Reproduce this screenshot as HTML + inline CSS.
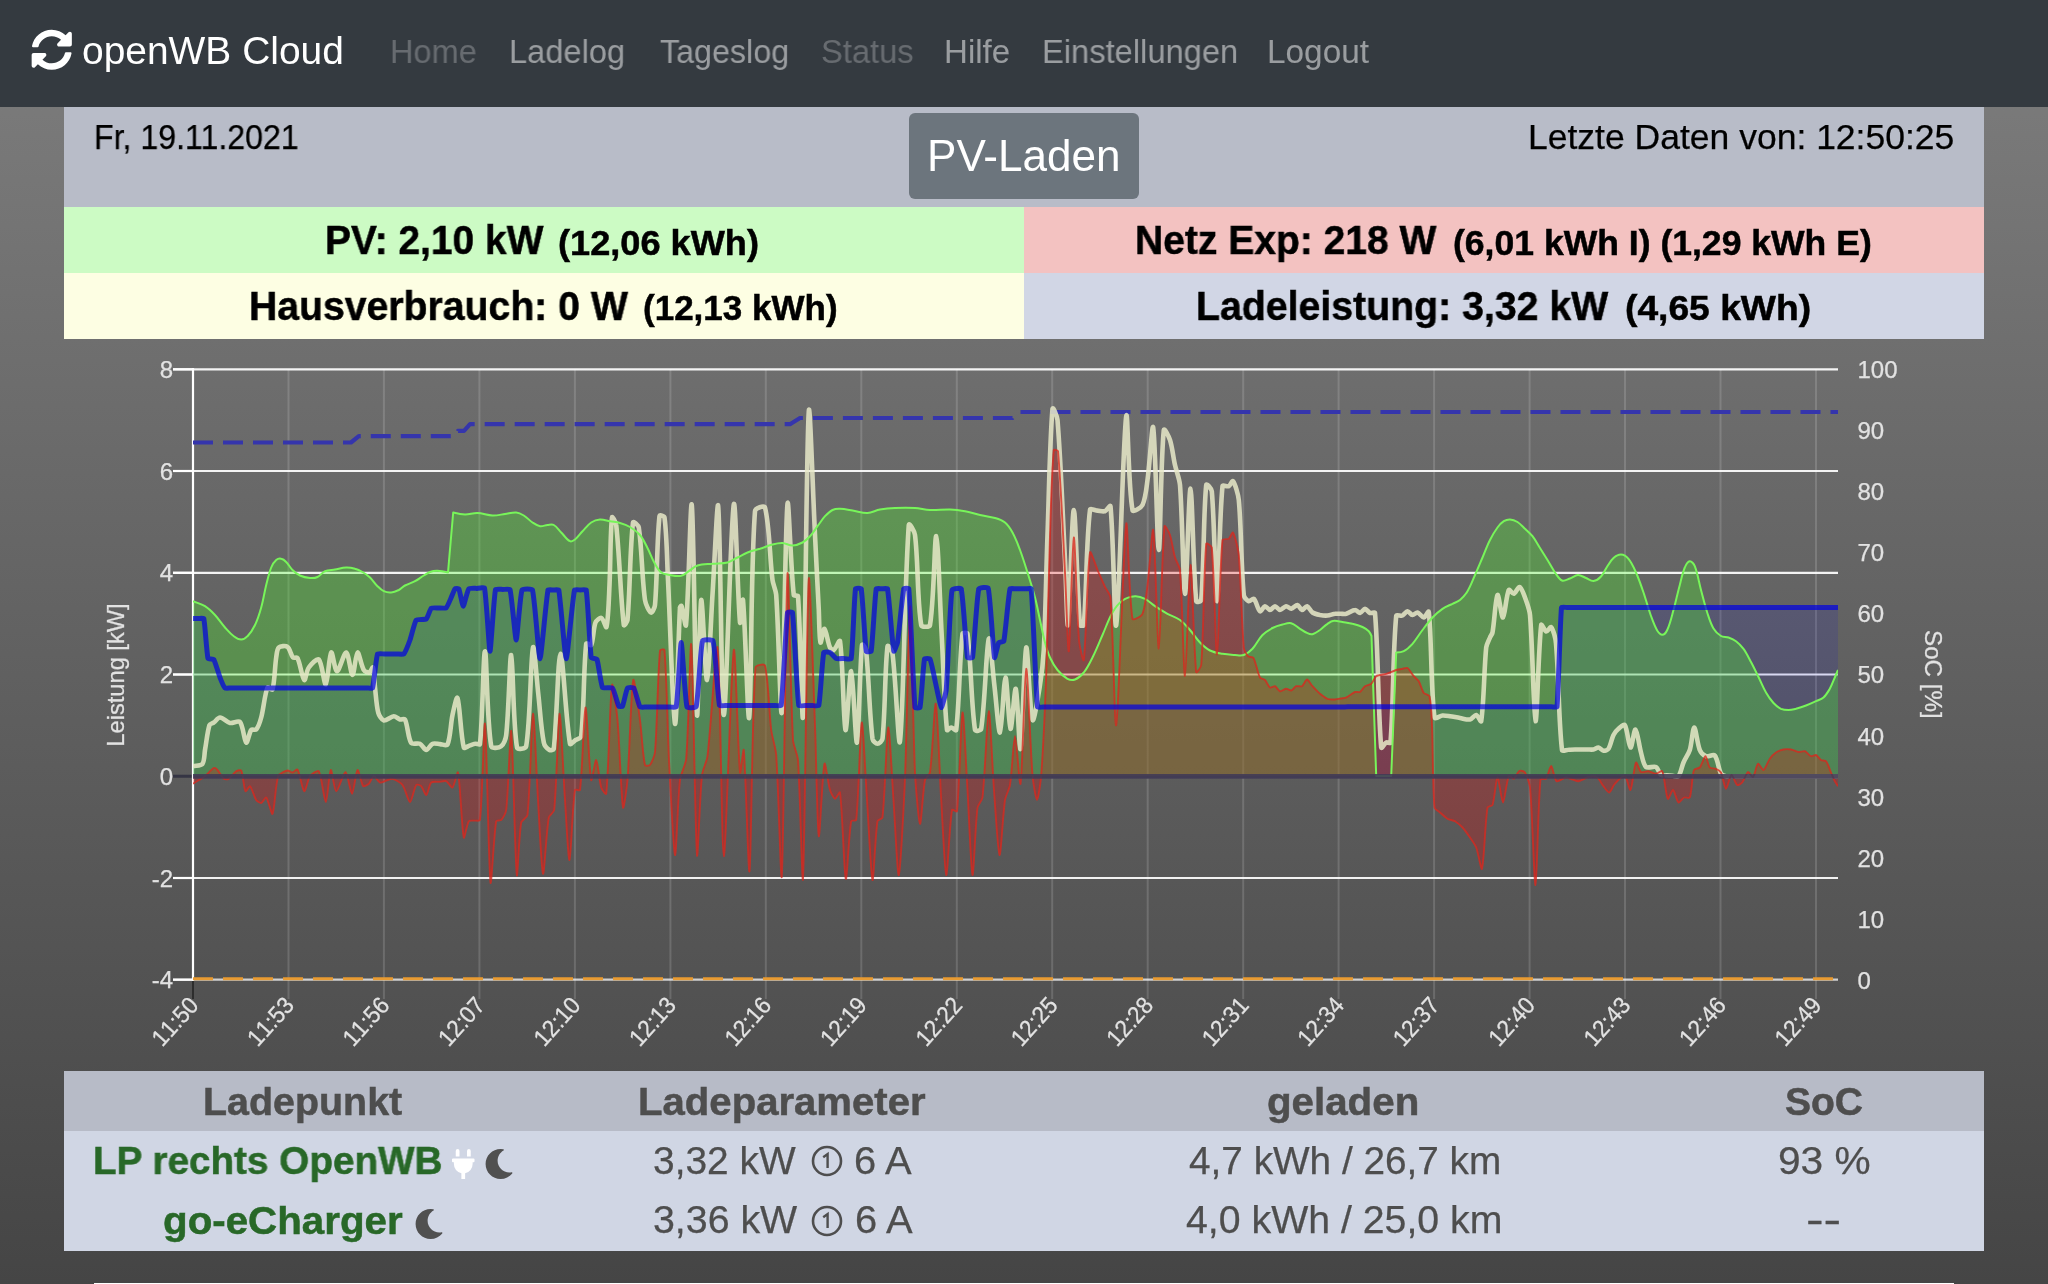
<!DOCTYPE html>
<html lang="de"><head><meta charset="utf-8"><title>openWB Cloud</title>
<style>
html,body{margin:0;padding:0}
body{width:2048px;height:1284px;overflow:hidden;position:relative;font-family:"Liberation Sans",sans-serif;
background:linear-gradient(to bottom,#7e7e7e 0px,#454545 1284px)}
.t{position:absolute;white-space:nowrap;line-height:1;display:block}
.box{position:absolute}
a.t{text-decoration:none}
nav{position:absolute;left:0;top:0;width:2048px;height:107px;background:#343a40}
svg{position:absolute;overflow:visible;will-change:transform}
.t{will-change:transform}
</style></head><body>

<nav>
<svg style="left:31.3px;top:29.2px" width="41.5" height="41.5" viewBox="0 0 512 512"><path fill="#fff" d="M370.72 133.28C339.458 104.008 298.888 87.962 255.848 88c-77.458.068-144.328 53.178-162.791 126.85-1.344 5.363-6.122 9.15-11.651 9.15H24.103c-7.498 0-13.194-6.807-11.807-14.176C33.933 94.924 134.813 8 256 8c66.448 0 126.791 26.136 171.315 68.685L463.03 40.97C478.149 25.851 504 36.559 504 57.941V192c0 13.255-10.745 24-24 24H345.941c-21.382 0-32.09-25.851-16.971-40.971l41.75-41.749zM32 296h134.059c21.382 0 32.09 25.851 16.971 40.971l-41.75 41.75c31.262 29.273 71.835 45.319 114.876 45.28 77.418-.07 144.315-53.144 162.787-126.849 1.344-5.363 6.122-9.15 11.651-9.15h57.304c7.498 0 13.194 6.807 11.807 14.176C478.067 417.076 377.187 504 256 504c-66.448 0-126.791-26.136-171.315-68.685L48.97 471.03C33.851 486.149 8 475.441 8 454.059V320c0-13.255 10.745-24 24-24z"/></svg>
<span class="t" id="brand" style="left:82.0px;top:32.0px;font-size:38.4px;font-weight:400;color:#fff;transform:scaleX(1.0141);transform-origin:left center;">openWB Cloud</span>
<a class="t" href="#" id="nav0" style="left:390.4px;top:35.2px;font-size:33px;font-weight:400;color:rgba(255,255,255,0.25);transform:scaleX(0.9854);transform-origin:left center;">Home</a>
<a class="t" href="#" id="nav1" style="left:509.0px;top:35.2px;font-size:33px;font-weight:400;color:rgba(255,255,255,0.5);transform:scaleX(0.9887);transform-origin:left center;">Ladelog</a>
<a class="t" href="#" id="nav2" style="left:659.6px;top:35.2px;font-size:33px;font-weight:400;color:rgba(255,255,255,0.5);transform:scaleX(0.9775);transform-origin:left center;">Tageslog</a>
<a class="t" href="#" id="nav3" style="left:820.6px;top:35.2px;font-size:33px;font-weight:400;color:rgba(255,255,255,0.25);transform:scaleX(0.9903);transform-origin:left center;">Status</a>
<a class="t" href="#" id="nav4" style="left:944.0px;top:35.2px;font-size:33px;font-weight:400;color:rgba(255,255,255,0.5);transform:scaleX(1.0019);transform-origin:left center;">Hilfe</a>
<a class="t" href="#" id="nav5" style="left:1042.0px;top:35.2px;font-size:33px;font-weight:400;color:rgba(255,255,255,0.5);transform:scaleX(0.9903);transform-origin:left center;">Einstellungen</a>
<a class="t" href="#" id="nav6" style="left:1267.0px;top:35.2px;font-size:33px;font-weight:400;color:rgba(255,255,255,0.5);transform:scaleX(1.0103);transform-origin:left center;">Logout</a>
</nav>
<div class="box" style="left:64px;top:107px;width:1920px;height:100px;background:#b8bcc8"></div>
<span class="t" id="date" style="left:94.4px;top:120.4px;font-size:35.5px;font-weight:400;color:#000;transform:scaleX(0.9047);transform-origin:left center;-webkit-text-stroke:0.25px #000;">Fr, 19.11.2021</span>
<span class="t" id="last" style="right:94.0px;top:120.4px;font-size:35.5px;font-weight:400;color:#000;transform:scaleX(1.0000);transform-origin:right center;-webkit-text-stroke:0.25px #000;">Letzte Daten von: 12:50:25</span>
<div class="box" style="left:909px;top:113px;width:230px;height:86px;background:#6c757d;border-radius:6px"></div>
<span class="t" id="pvl" style="left:926.6px;top:133.9px;font-size:44px;font-weight:400;color:#fff;transform:scaleX(1.0017);transform-origin:left center;">PV-Laden</span>
<div class="box" style="left:64px;top:207px;width:960px;height:66px;background:#ccfbc4"></div>
<div class="box" style="left:1024px;top:207px;width:960px;height:66px;background:#f3c2c1"></div>
<div class="box" style="left:64px;top:273px;width:960px;height:66px;background:#fdfee3"></div>
<div class="box" style="left:1024px;top:273px;width:960px;height:66px;background:#d1d6e5"></div>
<span class="t" id="pv1" style="left:324.8px;top:220.4px;font-size:40.5px;font-weight:700;color:#000;transform:scaleX(0.9604);transform-origin:left center;-webkit-text-stroke:0.5px #000;">PV: 2,10 kW</span>
<span class="t" id="pv2" style="left:557.8px;top:225.1px;font-size:35px;font-weight:700;color:#000;transform:scaleX(1.0330);transform-origin:left center;-webkit-text-stroke:0.5px #000;">(12,06 kWh)</span>
<span class="t" id="nz1" style="left:1135.2px;top:220.4px;font-size:40.5px;font-weight:700;color:#000;transform:scaleX(0.9636);transform-origin:left center;-webkit-text-stroke:0.5px #000;">Netz Exp: 218 W</span>
<span class="t" id="nz2" style="left:1452.6px;top:225.1px;font-size:35px;font-weight:700;color:#000;transform:scaleX(1.0156);transform-origin:left center;-webkit-text-stroke:0.5px #000;">(6,01 kWh I) (1,29 kWh E)</span>
<span class="t" id="hv1" style="left:248.6px;top:285.7px;font-size:40.5px;font-weight:700;color:#000;transform:scaleX(0.9674);transform-origin:left center;-webkit-text-stroke:0.5px #000;">Hausverbrauch: 0 W</span>
<span class="t" id="hv2" style="left:643.0px;top:290.4px;font-size:35px;font-weight:700;color:#000;transform:scaleX(1.0003);transform-origin:left center;-webkit-text-stroke:0.5px #000;">(12,13 kWh)</span>
<span class="t" id="ll1" style="left:1195.6px;top:285.7px;font-size:40.5px;font-weight:700;color:#000;transform:scaleX(0.9694);transform-origin:left center;-webkit-text-stroke:0.5px #000;">Ladeleistung: 3,32 kW</span>
<span class="t" id="ll2" style="left:1625.2px;top:290.4px;font-size:35px;font-weight:700;color:#000;transform:scaleX(1.0631);transform-origin:left center;-webkit-text-stroke:0.5px #000;">(4,65 kWh)</span>
<svg style="left:0;top:339px" width="2048" height="732" viewBox="0 339 2048 732">
<defs><clipPath id="ca"><rect x="193" y="368" width="1645" height="613"/></clipPath></defs>
<line x1="288.5" y1="369" x2="288.5" y2="999" stroke="rgba(255,255,255,0.15)" stroke-width="2"/>
<line x1="383.9" y1="369" x2="383.9" y2="999" stroke="rgba(255,255,255,0.15)" stroke-width="2"/>
<line x1="479.4" y1="369" x2="479.4" y2="999" stroke="rgba(255,255,255,0.15)" stroke-width="2"/>
<line x1="574.9" y1="369" x2="574.9" y2="999" stroke="rgba(255,255,255,0.15)" stroke-width="2"/>
<line x1="670.4" y1="369" x2="670.4" y2="999" stroke="rgba(255,255,255,0.15)" stroke-width="2"/>
<line x1="765.8" y1="369" x2="765.8" y2="999" stroke="rgba(255,255,255,0.15)" stroke-width="2"/>
<line x1="861.3" y1="369" x2="861.3" y2="999" stroke="rgba(255,255,255,0.15)" stroke-width="2"/>
<line x1="956.8" y1="369" x2="956.8" y2="999" stroke="rgba(255,255,255,0.15)" stroke-width="2"/>
<line x1="1052.2" y1="369" x2="1052.2" y2="999" stroke="rgba(255,255,255,0.15)" stroke-width="2"/>
<line x1="1147.7" y1="369" x2="1147.7" y2="999" stroke="rgba(255,255,255,0.15)" stroke-width="2"/>
<line x1="1243.2" y1="369" x2="1243.2" y2="999" stroke="rgba(255,255,255,0.15)" stroke-width="2"/>
<line x1="1338.6" y1="369" x2="1338.6" y2="999" stroke="rgba(255,255,255,0.15)" stroke-width="2"/>
<line x1="1434.1" y1="369" x2="1434.1" y2="999" stroke="rgba(255,255,255,0.15)" stroke-width="2"/>
<line x1="1529.6" y1="369" x2="1529.6" y2="999" stroke="rgba(255,255,255,0.15)" stroke-width="2"/>
<line x1="1625.0" y1="369" x2="1625.0" y2="999" stroke="rgba(255,255,255,0.15)" stroke-width="2"/>
<line x1="1720.5" y1="369" x2="1720.5" y2="999" stroke="rgba(255,255,255,0.15)" stroke-width="2"/>
<line x1="1816.0" y1="369" x2="1816.0" y2="999" stroke="rgba(255,255,255,0.15)" stroke-width="2"/>
<line x1="193" y1="980" x2="193" y2="999" stroke="rgba(0,0,0,0.45)" stroke-width="2"/>
<line x1="173" y1="369.3" x2="1838" y2="369.3" stroke="rgba(255,255,255,0.92)" stroke-width="2.2"/>
<line x1="173" y1="369.3" x2="193" y2="369.3" stroke="#fff" stroke-width="2.2"/>
<line x1="173" y1="471.0" x2="1838" y2="471.0" stroke="rgba(255,255,255,0.92)" stroke-width="2.2"/>
<line x1="173" y1="471.0" x2="193" y2="471.0" stroke="#fff" stroke-width="2.2"/>
<line x1="173" y1="572.8" x2="1838" y2="572.8" stroke="rgba(255,255,255,0.92)" stroke-width="2.2"/>
<line x1="173" y1="572.8" x2="193" y2="572.8" stroke="#fff" stroke-width="2.2"/>
<line x1="173" y1="674.5" x2="1838" y2="674.5" stroke="rgba(255,255,255,0.92)" stroke-width="2.2"/>
<line x1="173" y1="674.5" x2="193" y2="674.5" stroke="#fff" stroke-width="2.2"/>
<line x1="173" y1="878.0" x2="1838" y2="878.0" stroke="rgba(255,255,255,0.92)" stroke-width="2.2"/>
<line x1="173" y1="878.0" x2="193" y2="878.0" stroke="#fff" stroke-width="2.2"/>
<line x1="173" y1="979.7" x2="1838" y2="979.7" stroke="rgba(255,255,255,0.72)" stroke-width="2.2"/>
<line x1="173" y1="979.7" x2="193" y2="979.7" stroke="#fff" stroke-width="2.2"/>
<line x1="173" y1="776.2" x2="1838" y2="776.2" stroke="rgba(40,40,60,0.75)" stroke-width="3"/>
<line x1="193" y1="368" x2="193" y2="981" stroke="#fff" stroke-width="2.2"/>
<g clip-path="url(#ca)" fill="none" stroke-linejoin="round" stroke-linecap="butt">
<path d="M193.0 618.5C193.8 618.5 197.6 618.5 198.4 618.5C199.2 618.5 203.6 617.8 203.8 618.5C205.0 623.8 206.7 653.1 208.0 658.5C208.2 659.3 213.3 658.8 213.8 659.5C215.1 661.7 219.0 674.8 220.0 677.5C220.6 679.1 223.9 686.9 225.0 688.0C225.5 688.5 229.6 688.0 230.5 688.0C231.3 688.0 235.1 688.0 235.9 688.0C236.7 688.0 240.6 688.0 241.4 688.0C242.2 688.0 246.0 688.0 246.9 688.0C247.7 688.0 251.5 688.0 252.3 688.0C253.1 688.0 257.0 688.0 257.8 688.0C258.6 688.0 262.4 688.0 263.2 688.0C264.1 688.0 267.9 688.0 268.7 688.0C269.5 688.0 273.3 688.0 274.2 688.0C275.0 688.0 278.8 688.0 279.6 688.0C280.4 688.0 284.3 688.0 285.1 688.0C285.9 688.0 289.7 688.0 290.6 688.0C291.4 688.0 295.2 688.0 296.0 688.0C296.8 688.0 300.7 688.0 301.5 688.0C302.3 688.0 306.1 688.0 306.9 688.0C307.8 688.0 311.6 688.0 312.4 688.0C313.2 688.0 317.1 688.0 317.9 688.0C318.7 688.0 322.5 688.0 323.3 688.0C324.2 688.0 328.0 688.0 328.8 688.0C329.6 688.0 333.4 688.0 334.3 688.0C335.1 688.0 338.9 688.0 339.7 688.0C340.5 688.0 344.4 688.0 345.2 688.0C346.0 688.0 349.8 688.0 350.6 688.0C351.5 688.0 355.3 688.0 356.1 688.0C356.9 688.0 360.8 688.0 361.6 688.0C362.4 688.0 366.2 688.0 367.0 688.0C367.9 688.0 372.3 688.7 372.5 688.0C373.9 683.6 376.0 658.3 377.5 654.0C377.8 653.2 383.1 654.0 384.1 654.0C385.0 654.0 389.6 654.0 390.6 654.0C391.6 654.0 396.2 654.0 397.2 654.0C398.2 654.0 403.2 654.6 403.8 654.0C405.1 652.5 409.2 642.2 410.0 640.0C411.1 637.1 414.6 622.1 416.2 620.0C417.0 619.0 425.2 619.8 426.2 619.0C427.5 618.0 430.1 609.3 431.2 608.2C432.0 607.6 437.6 608.0 438.8 608.0C439.9 608.0 445.5 608.4 446.2 607.8C447.4 606.8 450.5 599.1 451.2 597.5C451.8 596.2 454.2 589.7 455.0 588.8C455.3 588.4 458.5 588.3 458.8 588.8C459.8 590.9 462.5 606.2 463.2 606.2C464.0 606.2 467.3 590.6 468.8 588.8C469.4 587.9 475.4 588.4 476.6 588.4C477.8 588.3 484.3 587.0 484.5 588.0C486.3 596.4 489.2 651.1 490.0 651.2C490.8 651.4 493.8 597.8 495.5 589.5C495.7 588.5 501.7 589.5 502.8 589.5C503.8 589.5 509.7 588.6 510.0 589.5C511.8 596.1 515.3 640.0 516.2 640.0C517.1 640.0 520.0 596.2 522.0 590.0C522.4 588.7 532.1 588.6 532.5 590.0C534.8 599.0 538.8 658.8 540.0 658.8C541.2 658.8 546.1 599.6 548.0 590.0C548.1 589.3 552.6 590.0 553.4 590.0C554.2 590.0 558.6 589.3 558.8 590.0C560.5 599.6 565.1 658.8 566.2 658.8C567.4 658.8 572.5 599.5 574.5 590.0C574.7 589.2 579.5 590.0 580.4 590.0C581.3 590.0 586.1 589.2 586.2 590.0C587.8 599.3 589.8 647.9 591.2 657.5C591.4 658.4 596.7 658.7 597.0 659.5C598.4 663.2 600.8 684.3 602.5 687.5C603.1 688.6 611.7 687.0 612.5 688.0C614.1 689.9 617.5 704.0 618.8 706.2C619.0 706.7 622.3 706.7 622.5 706.2C623.6 704.0 626.2 690.1 627.5 688.0C627.9 687.3 633.3 687.3 633.8 688.0C635.2 690.2 638.6 704.8 640.0 707.0C640.4 707.7 645.1 707.0 646.0 707.0C646.9 707.0 651.2 707.0 652.1 707.0C653.0 707.0 657.2 707.0 658.1 707.0C659.0 707.0 663.3 707.0 664.2 707.0C665.1 707.0 669.3 707.0 670.2 707.0C671.1 707.0 676.1 707.8 676.2 707.0C677.8 698.2 680.4 642.5 681.2 642.5C682.1 642.5 685.0 698.6 687.0 707.0C687.3 708.2 696.0 707.7 696.2 706.5C698.3 697.8 700.3 649.3 702.5 640.8C702.8 639.4 712.6 639.4 713.0 640.8C715.2 649.1 717.8 696.6 719.5 705.5C719.6 706.3 724.3 705.5 725.1 705.5C726.0 705.5 729.9 705.5 730.7 705.5C731.6 705.5 735.5 705.5 736.3 705.5C737.2 705.5 741.1 705.5 742.0 705.5C742.8 705.5 746.7 705.5 747.6 705.5C748.4 705.5 752.3 705.5 753.2 705.5C754.0 705.5 758.0 705.5 758.8 705.5C759.6 705.5 763.6 705.5 764.4 705.5C765.3 705.5 769.2 705.5 770.0 705.5C770.9 705.5 774.8 705.5 775.6 705.5C776.5 705.5 781.1 706.3 781.2 705.5C782.9 692.3 785.9 625.7 787.5 612.5C787.6 611.8 792.4 611.8 792.5 612.5C794.1 625.7 796.9 692.5 798.8 705.5C798.9 706.4 804.4 705.5 805.4 705.5C806.4 705.5 811.1 705.5 812.1 705.5C813.1 705.5 818.6 706.4 818.8 705.5C820.3 698.4 822.2 659.6 823.8 652.5C823.9 651.7 829.2 652.1 830.0 652.5C831.1 653.0 835.1 658.0 836.2 658.5C837.2 658.9 842.6 658.5 843.8 658.5C844.9 658.5 851.1 659.5 851.2 658.5C852.8 649.1 854.1 598.4 855.5 588.8C855.6 588.0 861.1 588.0 861.2 588.8C862.7 597.3 864.9 642.6 866.2 651.2C866.4 651.9 871.1 651.9 871.2 651.2C872.6 642.6 874.8 597.4 876.2 588.8C876.4 588.0 881.0 588.8 881.9 588.8C882.7 588.8 887.4 588.0 887.5 588.8C889.1 597.4 892.4 644.2 893.8 651.2C893.9 652.3 897.3 643.9 897.5 642.5C898.8 634.5 902.2 596.1 903.8 588.8C903.9 588.1 908.7 588.0 908.8 588.8C910.4 605.8 913.4 690.4 915.0 707.5C915.1 708.2 919.9 708.2 920.0 707.5C921.3 700.9 923.2 665.5 924.5 659.0C924.7 658.3 929.7 658.3 930.0 659.0C931.4 662.0 934.8 679.6 935.6 683.2C936.5 686.9 940.3 706.9 941.2 707.5C941.9 707.9 946.0 692.7 946.2 690.0C947.6 675.1 949.9 603.9 952.0 590.0C952.2 588.7 961.0 587.5 961.2 588.8C963.3 597.7 965.9 647.9 967.5 657.5C967.6 658.2 972.4 658.2 972.5 657.5C974.1 647.9 976.7 597.9 978.8 588.8C979.0 587.5 988.0 586.8 988.2 588.0C990.3 597.1 993.2 650.8 994.5 657.5C994.8 659.0 997.7 644.3 998.8 642.5C999.1 641.9 1003.6 642.0 1003.8 641.2C1005.3 633.9 1008.4 595.9 1010.0 588.8C1010.2 588.0 1014.5 588.8 1015.3 588.8C1016.1 588.8 1019.8 588.8 1020.6 588.8C1021.4 588.8 1025.1 588.8 1025.9 588.8C1026.7 588.8 1031.2 588.0 1031.2 588.8C1032.9 605.7 1035.8 690.0 1037.5 707.0C1037.6 707.8 1042.0 707.0 1042.8 707.0C1043.6 707.0 1047.3 707.0 1048.1 707.0C1048.9 707.0 1052.6 707.0 1053.4 707.0C1054.2 707.0 1057.9 707.0 1058.7 707.0C1059.5 707.0 1063.2 707.0 1064.0 707.0C1064.8 707.0 1068.5 707.0 1069.3 707.0C1070.1 707.0 1073.8 707.0 1074.6 707.0C1075.4 707.0 1079.1 707.0 1079.9 707.0C1080.7 707.0 1084.4 707.0 1085.2 707.0C1086.0 707.0 1089.7 707.0 1090.5 707.0C1091.3 707.0 1095.0 707.0 1095.8 707.0C1096.6 707.0 1100.3 707.0 1101.1 707.0C1101.9 707.0 1105.6 707.0 1106.4 707.0C1107.2 707.0 1110.9 707.0 1111.7 707.0C1112.5 707.0 1116.2 707.0 1117.0 707.0C1117.8 707.0 1121.5 707.0 1122.3 707.0C1123.1 707.0 1126.8 707.0 1127.6 707.0C1128.4 707.0 1132.1 707.0 1132.9 707.0C1133.7 707.0 1137.4 707.0 1138.2 707.0C1139.0 707.0 1142.7 706.9 1143.5 706.9C1144.3 706.9 1148.0 706.9 1148.8 706.9C1149.6 706.9 1153.3 706.9 1154.1 706.9C1154.9 706.9 1158.6 706.9 1159.4 706.9C1160.2 706.9 1163.9 706.9 1164.7 706.9C1165.5 706.9 1169.2 706.9 1170.0 706.9C1170.8 706.9 1174.5 706.9 1175.3 706.9C1176.1 706.9 1179.8 706.9 1180.6 706.9C1181.4 706.9 1185.1 706.9 1185.9 706.9C1186.7 706.9 1190.4 706.9 1191.2 706.9C1192.0 706.9 1195.7 706.9 1196.5 706.9C1197.3 706.9 1201.0 706.9 1201.8 706.9C1202.6 706.9 1206.3 706.9 1207.1 706.9C1207.9 706.9 1211.6 706.9 1212.4 706.9C1213.2 706.9 1216.9 706.9 1217.7 706.9C1218.5 706.9 1222.2 706.9 1223.0 706.9C1223.8 706.9 1227.5 706.9 1228.3 706.9C1229.1 706.9 1232.8 706.9 1233.6 706.9C1234.4 706.9 1238.1 706.9 1238.9 706.9C1239.7 706.9 1243.4 706.9 1244.2 706.9C1245.0 706.9 1248.7 706.9 1249.5 706.9C1250.3 706.9 1254.0 706.9 1254.8 706.9C1255.6 706.9 1259.3 706.9 1260.1 706.9C1260.9 706.9 1264.6 706.9 1265.4 706.9C1266.2 706.9 1269.9 706.9 1270.7 706.9C1271.5 706.9 1275.3 706.9 1276.0 706.9C1276.8 706.9 1280.6 706.9 1281.3 706.9C1282.1 706.9 1285.9 706.9 1286.6 706.9C1287.4 706.9 1291.2 706.9 1291.9 706.9C1292.7 706.9 1296.5 706.9 1297.2 706.9C1298.0 706.9 1301.8 706.9 1302.6 706.9C1303.3 706.9 1307.1 706.9 1307.9 706.9C1308.6 706.9 1312.4 706.9 1313.2 706.9C1313.9 706.9 1317.7 706.9 1318.5 706.9C1319.2 706.9 1323.0 706.9 1323.8 706.9C1324.6 706.9 1328.3 706.9 1329.1 706.9C1329.9 706.9 1333.6 706.9 1334.4 706.9C1335.2 706.9 1338.9 706.9 1339.7 706.9C1340.5 706.9 1344.2 706.9 1345.0 706.9C1345.8 706.9 1349.5 706.8 1350.3 706.8C1351.1 706.8 1354.8 706.8 1355.6 706.8C1356.4 706.8 1360.1 706.8 1360.9 706.8C1361.7 706.8 1365.4 706.8 1366.2 706.8C1367.0 706.8 1370.7 706.8 1371.5 706.8C1372.3 706.8 1376.0 706.8 1376.8 706.8C1377.6 706.8 1381.3 706.8 1382.1 706.8C1382.9 706.8 1386.6 706.8 1387.4 706.8C1388.2 706.8 1391.9 706.8 1392.7 706.8C1393.5 706.8 1397.2 706.8 1398.0 706.8C1398.8 706.8 1402.5 706.8 1403.3 706.8C1404.1 706.8 1407.8 706.8 1408.6 706.8C1409.4 706.8 1413.1 706.8 1413.9 706.8C1414.7 706.8 1418.4 706.8 1419.2 706.8C1420.0 706.8 1423.7 706.8 1424.5 706.8C1425.3 706.8 1429.0 706.8 1429.8 706.8C1430.6 706.8 1434.3 706.8 1435.1 706.8C1435.9 706.8 1439.6 706.8 1440.4 706.8C1441.2 706.8 1444.9 706.8 1445.7 706.8C1446.5 706.8 1450.2 706.8 1451.0 706.8C1451.8 706.8 1455.5 706.8 1456.3 706.8C1457.1 706.8 1460.8 706.8 1461.6 706.8C1462.4 706.8 1466.1 706.8 1466.9 706.8C1467.7 706.8 1471.4 706.8 1472.2 706.8C1473.0 706.8 1476.7 706.8 1477.5 706.8C1478.3 706.8 1482.0 706.8 1482.8 706.8C1483.6 706.8 1487.3 706.8 1488.1 706.8C1488.9 706.8 1492.6 706.8 1493.4 706.8C1494.2 706.8 1497.9 706.8 1498.7 706.8C1499.5 706.8 1503.2 706.8 1504.0 706.8C1504.8 706.8 1508.5 706.8 1509.3 706.8C1510.1 706.8 1513.8 706.8 1514.6 706.8C1515.4 706.8 1519.1 706.8 1519.9 706.8C1520.7 706.8 1524.4 706.8 1525.2 706.8C1526.0 706.8 1529.7 706.8 1530.5 706.8C1531.3 706.8 1535.0 706.8 1535.8 706.8C1536.6 706.8 1540.3 706.8 1541.1 706.8C1541.9 706.8 1545.6 706.8 1546.4 706.8C1547.2 706.8 1550.9 706.8 1551.7 706.8C1552.5 706.8 1556.9 707.5 1557.0 706.8C1558.4 692.6 1560.1 621.6 1561.5 607.5C1561.6 606.7 1566.0 607.5 1566.8 607.5C1567.6 607.5 1571.3 607.5 1572.1 607.5C1572.9 607.5 1576.7 607.5 1577.5 607.5C1578.2 607.5 1582.0 607.5 1582.8 607.5C1583.6 607.5 1587.3 607.5 1588.1 607.5C1588.9 607.5 1592.6 607.5 1593.4 607.5C1594.2 607.5 1597.9 607.5 1598.7 607.5C1599.5 607.5 1603.2 607.5 1604.0 607.5C1604.8 607.5 1608.6 607.5 1609.4 607.5C1610.2 607.5 1613.9 607.5 1614.7 607.5C1615.5 607.5 1619.2 607.5 1620.0 607.5C1620.8 607.5 1624.5 607.5 1625.3 607.5C1626.1 607.5 1629.8 607.5 1630.6 607.5C1631.4 607.5 1635.1 607.5 1635.9 607.5C1636.7 607.5 1640.5 607.5 1641.3 607.5C1642.1 607.5 1645.8 607.5 1646.6 607.5C1647.4 607.5 1651.1 607.5 1651.9 607.5C1652.7 607.5 1656.4 607.5 1657.2 607.5C1658.0 607.5 1661.7 607.5 1662.5 607.5C1663.3 607.5 1667.0 607.5 1667.8 607.5C1668.6 607.5 1672.4 607.5 1673.2 607.5C1674.0 607.5 1677.7 607.5 1678.5 607.5C1679.3 607.5 1683.0 607.5 1683.8 607.5C1684.6 607.5 1688.3 607.5 1689.1 607.5C1689.9 607.5 1693.6 607.5 1694.4 607.5C1695.2 607.5 1699.0 607.5 1699.8 607.5C1700.5 607.5 1704.3 607.5 1705.1 607.5C1705.9 607.5 1709.6 607.5 1710.4 607.5C1711.2 607.5 1714.9 607.5 1715.7 607.5C1716.5 607.5 1720.2 607.5 1721.0 607.5C1721.8 607.5 1725.5 607.5 1726.3 607.5C1727.1 607.5 1730.9 607.5 1731.7 607.5C1732.5 607.5 1736.2 607.5 1737.0 607.5C1737.8 607.5 1741.5 607.5 1742.3 607.5C1743.1 607.5 1746.8 607.5 1747.6 607.5C1748.4 607.5 1752.1 607.5 1752.9 607.5C1753.7 607.5 1757.4 607.5 1758.2 607.5C1759.0 607.5 1762.8 607.5 1763.6 607.5C1764.4 607.5 1768.1 607.5 1768.9 607.5C1769.7 607.5 1773.4 607.5 1774.2 607.5C1775.0 607.5 1778.7 607.5 1779.5 607.5C1780.3 607.5 1784.0 607.5 1784.8 607.5C1785.6 607.5 1789.3 607.5 1790.1 607.5C1790.9 607.5 1794.7 607.5 1795.5 607.5C1796.3 607.5 1800.0 607.5 1800.8 607.5C1801.6 607.5 1805.3 607.5 1806.1 607.5C1806.9 607.5 1810.6 607.5 1811.4 607.5C1812.2 607.5 1815.9 607.5 1816.7 607.5C1817.5 607.5 1821.3 607.5 1822.0 607.5C1822.8 607.5 1826.6 607.5 1827.4 607.5C1828.2 607.5 1831.9 607.5 1832.7 607.5C1833.5 607.5 1837.2 607.5 1838.0 607.5L1838.0 776.2 L193.0 776.2 Z" fill="rgba(0,0,230,0.11)" stroke="none"/>
<path d="M193.0 601.2C197.2 603.0 201.2 603.9 205.0 606.2C208.9 608.7 211.8 611.6 215.0 615.0C218.8 619.1 221.3 623.3 225.0 627.5C227.9 630.7 230.3 633.7 233.8 636.2C236.0 637.9 238.7 639.5 241.2 639.5C243.5 639.5 245.9 638.0 247.5 636.2C250.7 632.9 253.0 629.2 255.0 625.0C257.8 619.2 259.5 613.7 261.2 607.5C263.4 599.7 264.3 592.8 266.2 585.0C267.8 578.8 268.9 573.4 271.2 567.5C272.4 564.6 274.0 561.9 276.2 560.0C277.5 558.9 279.6 558.4 281.2 558.8C283.1 559.1 284.8 560.5 286.2 562.0C288.7 564.5 290.0 567.5 292.5 570.0C294.8 572.3 297.1 574.2 300.0 575.5C303.2 577.0 306.5 577.7 310.0 578.0C312.6 578.2 315.2 578.1 317.5 577.0C320.4 575.7 322.0 572.5 325.0 571.2C328.2 569.9 331.5 570.1 335.0 569.5C338.9 568.8 342.3 567.6 346.2 567.5C349.3 567.4 352.0 567.9 355.0 568.8C357.7 569.5 360.0 570.6 362.5 572.0C365.3 573.6 367.7 575.3 370.0 577.5C372.9 580.3 374.7 583.4 377.5 586.2C379.5 588.2 381.3 590.1 383.8 591.2C386.1 592.3 388.7 592.7 391.2 592.5C393.9 592.3 396.3 591.2 398.8 590.0C401.1 588.8 402.6 586.8 405.0 585.5C408.3 583.7 411.7 583.0 415.0 581.2C418.2 579.5 420.6 577.4 423.8 575.5C425.9 574.2 427.7 572.8 430.0 572.0C432.5 571.1 434.9 570.7 437.5 570.8C441.2 570.9 448.0 572.5 448.0 572.5C448.0 572.5 449.5 555.0 449.5 555.0C449.5 555.0 453.2 512.5 453.2 512.5C453.2 512.5 460.9 514.4 465.0 514.5C469.4 514.6 473.1 512.8 477.5 513.0C482.8 513.2 487.2 515.3 492.5 515.5C496.9 515.7 500.6 514.6 505.0 514.0C508.9 513.5 512.4 512.2 516.2 512.5C519.0 512.7 521.4 514.0 523.8 515.5C527.1 517.5 529.2 520.3 532.5 522.5C534.9 524.1 537.2 525.8 540.0 526.2C542.5 526.7 544.9 525.2 547.5 525.0C549.7 524.8 552.0 524.0 553.8 525.0C556.8 526.7 558.6 529.9 561.2 532.5C564.3 535.6 566.6 539.5 570.0 541.2C571.4 542.0 573.6 540.6 575.0 539.5C578.0 537.1 579.8 534.1 582.5 531.2C585.5 528.1 587.7 524.9 591.2 522.5C593.9 520.7 596.9 519.7 600.0 519.5C603.4 519.3 606.5 520.6 610.0 521.2C613.5 521.9 616.6 522.0 620.0 523.0C623.6 524.0 626.8 525.1 630.0 527.0C633.8 529.3 637.2 531.6 640.0 535.0C643.3 539.0 645.1 543.3 647.5 548.0C650.2 553.1 651.7 558.0 654.5 563.0C656.4 566.4 658.1 569.9 661.0 572.2C663.2 574.0 666.1 574.2 669.0 574.8C673.1 575.5 677.0 576.5 681.0 575.8C683.9 575.2 686.1 572.9 688.8 571.2C691.9 569.3 694.1 566.6 697.5 565.5C702.4 563.9 707.2 564.3 712.5 563.8C717.7 563.2 722.5 563.8 727.5 562.5C731.2 561.6 734.0 559.2 737.5 557.5C741.0 555.8 743.9 553.9 747.5 552.5C751.7 550.9 755.7 550.1 760.0 548.8C764.4 547.3 768.0 545.6 772.5 544.5C775.9 543.6 779.0 542.8 782.5 543.0C786.0 543.2 789.0 545.6 792.5 545.5C796.0 545.4 799.3 544.2 802.5 542.5C805.5 540.9 807.7 538.7 810.0 536.2C812.9 533.1 814.9 529.8 817.5 526.2C820.1 522.8 822.1 519.4 825.0 516.2C827.3 513.8 829.5 511.5 832.5 510.0C834.8 508.9 837.4 508.7 840.0 508.8C844.4 508.9 848.1 509.8 852.5 510.5C857.8 511.3 862.3 513.2 867.5 513.0C871.9 512.8 875.5 510.3 880.0 509.5C885.2 508.6 889.7 508.2 895.0 508.0C902.0 507.7 908.0 507.6 915.0 508.0C920.3 508.3 924.7 509.8 930.0 510.0C937.0 510.3 943.0 509.3 950.0 509.5C955.3 509.7 959.8 510.3 965.0 511.2C970.3 512.2 974.7 513.8 980.0 515.0C985.2 516.2 989.9 516.5 995.0 518.0C998.7 519.1 1002.1 520.1 1005.0 522.5C1008.3 525.2 1010.4 528.7 1012.5 532.5C1015.7 538.3 1017.7 543.8 1020.0 550.0C1022.9 557.8 1025.0 564.6 1027.5 572.5C1030.3 581.2 1032.7 588.7 1035.0 597.5C1037.1 605.3 1038.2 612.1 1040.0 620.0C1041.8 627.9 1042.9 634.7 1045.0 642.5C1046.4 647.8 1047.7 652.5 1050.0 657.5C1052.1 662.1 1054.3 666.1 1057.5 670.0C1060.4 673.5 1063.6 676.6 1067.5 678.8C1069.7 680.0 1072.7 680.4 1075.0 679.5C1078.4 678.2 1081.3 675.5 1083.8 672.5C1087.5 667.8 1089.8 662.9 1092.5 657.5C1096.3 649.8 1099.0 642.9 1102.5 635.0C1106.0 627.1 1108.2 619.9 1112.5 612.5C1115.2 607.8 1118.2 603.6 1122.5 600.5C1126.1 597.9 1130.6 596.6 1135.0 596.2C1138.5 596.0 1141.8 597.2 1145.0 598.8C1148.8 600.7 1151.4 603.8 1155.0 606.2C1159.2 609.1 1163.0 611.3 1167.5 613.8C1171.8 616.1 1176.1 617.2 1180.0 620.0C1184.0 622.9 1186.7 626.3 1190.0 630.0C1193.7 634.2 1196.1 638.5 1200.0 642.5C1203.1 645.7 1206.1 648.5 1210.0 650.5C1214.0 652.5 1218.1 653.0 1222.5 653.8C1226.8 654.5 1230.6 654.7 1235.0 655.0C1238.1 655.2 1241.0 656.0 1243.8 655.0C1247.1 653.8 1250.0 651.5 1252.5 648.8C1256.5 644.5 1258.4 639.2 1262.5 635.0C1265.4 632.0 1268.8 630.0 1272.5 628.0C1275.8 626.3 1278.9 625.4 1282.5 624.5C1285.5 623.7 1288.4 622.6 1291.2 623.2C1294.6 624.1 1296.9 626.9 1300.0 628.8C1302.6 630.4 1304.7 632.0 1307.5 633.2C1309.1 634.0 1310.9 634.7 1312.5 634.2C1315.2 633.5 1317.5 631.7 1320.0 630.0C1322.8 628.0 1324.7 625.6 1327.5 623.8C1329.5 622.4 1331.4 621.0 1333.8 620.8C1336.7 620.4 1339.4 621.5 1342.5 622.0C1346.0 622.6 1349.1 622.9 1352.5 623.8C1356.1 624.6 1359.2 625.5 1362.5 627.0C1364.9 628.1 1366.9 629.4 1368.8 631.2C1370.1 632.6 1371.5 636.0 1371.5 636.0C1371.5 636.0 1376.2 776.0 1376.2 776.0C1376.2 776.0 1391.2 776.0 1391.2 776.0C1391.2 776.0 1396.2 652.5 1396.2 652.5C1396.2 652.5 1401.5 652.5 1403.8 651.2C1407.2 649.4 1409.8 646.8 1412.5 643.8C1416.4 639.3 1418.9 634.7 1422.5 630.0C1425.9 625.5 1428.7 621.6 1432.5 617.5C1435.7 614.1 1438.7 611.4 1442.5 608.8C1445.7 606.6 1449.0 605.5 1452.5 603.8C1455.1 602.4 1457.8 601.8 1460.0 600.0C1463.0 597.5 1465.4 594.7 1467.5 591.2C1470.7 585.9 1472.5 580.7 1475.0 575.0C1477.7 568.9 1479.9 563.6 1482.5 557.5C1485.1 551.4 1487.0 545.9 1490.0 540.0C1492.3 535.4 1494.5 531.6 1497.5 527.5C1499.3 525.0 1501.2 522.9 1503.8 521.2C1505.6 520.1 1507.8 519.4 1510.0 519.5C1512.6 519.6 1515.2 520.6 1517.5 522.0C1520.4 523.8 1522.4 526.3 1525.0 528.8C1527.7 531.3 1530.2 533.3 1532.5 536.2C1535.5 540.1 1537.4 543.9 1540.0 548.0C1542.6 552.2 1544.9 555.8 1547.5 560.0C1550.2 564.4 1552.1 568.4 1555.0 572.5C1557.1 575.5 1559.0 579.3 1562.0 580.5C1564.3 581.4 1567.3 579.4 1570.0 578.5C1572.9 577.5 1575.2 575.1 1578.0 575.0C1580.8 574.9 1583.2 576.9 1586.0 578.0C1588.6 579.0 1591.0 581.3 1593.5 581.0C1596.2 580.7 1599.0 578.7 1601.0 576.5C1603.8 573.6 1604.9 569.9 1607.2 566.5C1609.3 563.4 1610.8 560.4 1613.5 558.0C1615.6 556.2 1618.4 554.4 1621.0 554.5C1623.7 554.6 1626.6 556.5 1628.5 558.8C1631.9 562.8 1633.8 567.5 1636.0 572.5C1639.0 579.3 1641.1 585.4 1643.5 592.5C1646.3 600.7 1648.1 607.9 1651.0 616.0C1652.9 621.2 1654.5 625.9 1657.2 630.5C1658.4 632.4 1660.5 634.8 1662.2 634.8C1664.0 634.7 1666.3 632.1 1667.2 630.0C1670.2 623.5 1671.5 617.1 1673.5 610.0C1675.9 601.3 1677.4 593.7 1679.8 585.0C1681.4 578.8 1682.3 573.3 1684.8 567.5C1685.8 565.0 1687.9 561.5 1689.8 561.2C1691.4 561.0 1693.9 564.0 1694.8 566.2C1697.8 574.1 1698.8 581.7 1701.0 590.0C1703.1 597.9 1704.7 604.7 1707.2 612.5C1709.1 618.2 1710.5 623.4 1713.5 628.5C1715.3 631.6 1717.9 634.2 1721.0 636.0C1723.2 637.3 1726.0 636.6 1728.5 637.5C1731.2 638.5 1733.7 639.5 1736.0 641.2C1738.9 643.4 1741.3 645.8 1743.5 648.8C1746.6 653.0 1748.5 657.3 1751.0 662.0C1753.8 667.2 1755.9 671.7 1758.5 677.0C1761.2 682.4 1763.0 687.3 1766.0 692.5C1768.2 696.4 1770.5 699.7 1773.5 703.0C1775.7 705.4 1778.1 707.4 1781.0 708.8C1783.3 709.8 1785.9 710.0 1788.5 710.0C1791.1 710.0 1793.4 709.4 1796.0 708.8C1799.6 707.8 1802.6 706.8 1806.0 705.5C1809.6 704.2 1812.5 702.8 1816.0 701.2C1818.7 700.0 1821.4 699.4 1823.5 697.5C1826.2 695.0 1827.9 692.0 1829.8 688.8C1831.9 685.0 1833.0 681.4 1834.8 677.5C1835.9 674.9 1836.9 672.6 1838.0 670.0L1838.0 776.2 L193.0 776.2 Z" fill="rgba(75,251,41,0.3)" stroke="none"/>
<path d="M193.0 783.8C194.5 782.8 197.5 780.9 199.0 780.0C200.5 779.1 203.6 777.4 205.0 776.2C207.3 774.4 211.4 769.2 213.8 768.0C214.6 767.6 216.8 769.2 217.5 770.0C219.3 771.9 221.8 777.3 223.8 778.8C224.6 779.4 227.7 779.4 228.8 778.8C230.9 777.5 234.1 772.6 236.2 771.2C237.3 770.6 240.8 769.5 241.2 770.5C243.1 774.5 243.8 788.3 245.5 791.2C246.0 792.2 249.2 785.6 250.0 786.2C251.9 787.8 254.2 797.0 256.2 800.0C257.0 801.2 260.2 803.3 261.2 803.0C262.7 802.6 265.4 796.7 266.2 797.5C268.2 799.4 271.6 815.4 272.5 813.8C274.6 810.1 275.3 784.7 278.2 776.2C279.1 773.8 285.1 771.1 287.5 770.5C288.7 770.2 291.3 772.6 292.5 772.5C293.8 772.4 296.9 768.5 297.5 769.5C299.8 773.2 302.4 790.3 304.2 791.2C305.5 791.9 307.8 779.3 310.0 776.2C311.4 774.3 317.8 769.7 318.8 771.2C321.7 776.1 324.3 802.2 325.8 802.0C327.3 801.8 329.2 771.6 330.8 770.0C331.8 768.9 334.4 791.0 336.2 791.2C338.1 791.5 343.6 771.7 345.5 772.0C347.5 772.3 350.6 794.0 352.0 793.8C353.6 793.5 355.9 771.1 357.5 770.0C358.7 769.2 361.2 783.7 363.2 786.2C364.0 787.1 367.7 784.8 368.8 783.8C370.3 782.3 372.3 776.4 373.8 776.2C375.1 776.1 378.2 781.9 380.0 782.5C381.3 783.0 384.7 781.1 386.2 780.6C387.8 780.2 391.1 778.4 392.5 778.8C395.1 779.5 400.8 782.7 402.5 785.0C405.2 788.6 408.3 802.0 410.0 802.0C411.7 802.0 414.1 788.1 416.2 785.0C416.9 784.1 420.4 785.4 421.2 786.2C422.9 787.9 425.2 795.4 426.2 795.0C427.7 794.5 429.2 784.6 431.2 782.5C432.4 781.3 436.9 782.0 438.8 781.9C440.6 781.7 444.7 780.6 446.2 781.2C448.1 782.0 451.5 788.3 452.5 787.5C454.4 786.1 457.4 770.0 458.0 772.5C460.3 782.5 461.6 827.8 463.8 837.5C464.3 840.0 466.8 824.4 468.8 821.2C469.4 820.2 473.0 820.8 474.4 820.6C475.8 820.5 479.9 821.3 480.0 820.0C482.5 797.1 484.0 717.8 485.0 723.8C486.6 733.5 488.5 864.9 490.5 882.5C491.3 889.3 493.8 835.7 496.2 821.2C496.5 820.0 500.5 820.9 501.2 820.0C503.0 818.1 505.9 812.8 506.2 810.0C508.4 790.6 510.3 725.5 511.2 731.2C512.9 741.7 514.9 858.3 516.8 875.0C517.4 881.1 519.0 835.2 521.2 822.5C521.7 820.2 527.2 817.4 527.5 815.0C530.2 790.2 531.6 715.8 533.0 713.8C534.2 712.0 536.7 778.4 538.0 800.0C539.2 818.4 541.5 871.3 543.0 873.8C544.2 875.6 546.3 831.2 548.8 817.5C549.1 815.2 554.0 812.3 554.2 810.0C556.7 786.3 558.1 715.1 559.5 713.8C560.8 712.6 563.5 778.4 565.0 800.0C566.0 815.0 568.3 861.2 569.5 860.0C570.8 858.7 572.5 806.3 575.0 790.0C575.2 788.8 579.9 791.2 580.0 790.0C582.5 770.6 584.0 708.8 585.5 707.5C586.8 706.3 589.2 769.8 591.2 780.0C591.8 782.9 595.2 759.2 596.2 760.0C597.7 761.1 599.3 780.9 601.2 787.5C601.8 789.4 606.1 795.5 606.2 793.8C608.8 769.9 609.9 698.9 612.0 685.0C612.7 680.5 616.7 711.2 617.5 720.0C619.5 741.8 621.1 796.1 623.0 807.5C623.6 811.1 626.9 786.9 627.5 780.0C629.5 755.1 631.0 690.7 633.2 680.0C634.2 675.7 638.6 710.0 640.0 720.0C641.5 731.2 642.7 754.9 645.0 765.0C645.2 766.1 649.3 765.9 650.0 765.0C651.8 762.6 654.7 755.5 655.0 752.0C657.2 726.8 657.7 674.9 660.0 650.5C660.1 649.4 664.4 648.9 664.5 650.0C666.7 676.3 667.6 732.5 669.0 760.0C670.2 783.8 673.5 852.2 675.0 855.0C676.2 857.2 677.8 798.6 680.0 780.0C680.6 774.5 685.8 764.2 686.2 758.8C688.6 730.4 690.3 636.0 691.2 644.5C693.0 660.1 695.1 831.4 697.0 855.0C697.7 864.0 699.9 794.8 702.0 775.0C702.5 770.2 706.9 761.1 707.5 756.2C710.8 729.2 716.1 638.9 717.5 647.5C720.2 663.9 721.7 855.9 723.8 856.2C725.8 856.6 731.2 663.1 733.8 650.0C735.3 642.2 737.9 751.4 740.0 772.5C740.4 776.4 743.4 746.1 743.8 750.0C745.7 770.8 748.4 878.9 749.5 871.2C751.3 858.3 751.8 716.6 755.5 667.5C755.7 665.2 764.5 663.5 765.0 665.5C768.4 679.1 769.2 713.9 771.2 730.0C772.0 736.3 775.8 748.7 776.2 755.0C778.4 785.2 780.9 889.2 781.8 876.2C783.8 843.9 785.7 595.7 787.5 573.8C788.5 561.7 790.7 698.6 793.0 740.0C793.3 745.1 797.6 754.9 798.0 760.0C800.1 789.6 802.2 891.6 803.0 878.8C804.9 846.3 806.7 604.6 808.8 578.8C809.7 566.1 813.6 688.4 815.0 725.0C816.1 752.8 817.3 830.4 818.8 836.2C819.7 840.1 822.4 772.2 824.5 763.8C825.3 760.6 828.1 783.6 830.0 790.0C830.7 792.4 833.6 798.4 835.0 798.8C836.1 799.0 839.8 790.8 840.0 792.5C842.5 810.8 844.1 874.4 845.8 878.8C846.9 881.6 848.8 834.7 851.2 821.2C851.5 820.0 856.1 821.2 856.2 820.0C858.7 796.6 860.3 725.3 861.8 722.5C862.9 720.3 865.7 780.6 867.0 800.0C868.4 820.0 871.0 876.9 872.5 880.0C873.6 882.3 875.2 835.4 877.5 821.2C877.7 819.8 882.3 819.0 882.5 817.5C885.0 795.6 886.7 729.9 888.2 727.5C889.5 725.5 892.2 781.9 893.5 800.0C894.8 818.7 897.5 877.4 898.8 875.0C900.4 871.9 904.0 802.3 905.0 778.0C906.8 735.0 908.7 606.7 910.0 606.0C911.2 605.3 913.1 730.9 915.0 772.5C915.6 785.4 918.7 822.7 920.0 823.8C921.2 824.6 922.9 790.6 925.0 780.0C925.4 777.8 929.7 774.7 930.0 772.5C932.4 755.6 934.6 700.9 935.8 703.8C937.4 707.8 939.8 775.9 941.2 800.0C942.4 818.8 944.8 873.7 946.2 875.0C947.5 876.2 949.5 824.8 952.0 810.0C952.2 808.8 956.9 812.5 957.0 811.2C959.5 788.1 961.0 715.5 962.5 712.5C963.7 710.2 966.3 770.6 967.5 790.0C968.8 811.2 971.1 872.6 972.5 875.0C973.6 876.9 975.4 824.1 977.5 807.5C977.9 804.8 982.2 800.3 982.5 797.5C985.0 776.2 987.2 712.2 988.8 711.2C990.1 710.4 992.5 770.3 994.0 790.0C995.2 806.3 998.0 853.6 999.5 855.0C1000.8 856.1 1003.0 813.6 1005.0 800.0C1005.6 796.1 1009.4 788.9 1010.0 785.0C1011.9 773.0 1013.7 736.4 1015.0 736.2C1016.3 736.1 1019.7 788.7 1020.5 783.8C1022.5 771.8 1024.7 669.9 1026.2 668.8C1027.7 667.7 1030.3 748.5 1032.5 775.0C1033.0 781.3 1035.9 800.0 1037.0 800.0C1038.1 800.0 1040.8 781.3 1041.2 775.0C1043.1 750.1 1045.3 700.0 1046.2 675.0C1047.5 640.0 1048.8 570.0 1050.0 535.0C1050.7 513.7 1051.8 469.9 1053.8 450.0C1053.8 449.0 1057.9 450.2 1058.0 451.2C1060.7 480.8 1063.4 542.2 1065.0 572.5C1066.1 592.2 1067.9 654.8 1068.8 651.2C1070.0 646.1 1072.4 539.0 1073.8 537.5C1075.0 536.2 1076.9 614.5 1079.0 640.0C1079.4 645.1 1083.3 663.5 1083.8 660.0C1086.1 641.6 1087.1 571.7 1090.0 552.5C1090.5 549.1 1095.6 565.4 1097.5 569.8C1099.4 574.1 1103.0 582.7 1105.0 587.0C1106.3 589.7 1110.3 594.6 1110.5 597.5C1113.1 629.1 1114.7 732.1 1116.2 725.0C1118.7 713.7 1123.5 541.8 1126.2 523.8C1127.6 515.2 1128.9 598.6 1132.5 618.8C1132.9 621.1 1141.5 616.1 1142.5 613.8C1145.2 607.6 1146.6 592.2 1147.5 585.0C1149.3 571.3 1152.4 525.0 1153.2 530.0C1155.2 540.8 1157.4 649.0 1158.8 648.5C1160.2 648.0 1161.9 552.4 1164.5 526.2C1164.7 524.0 1169.2 532.6 1170.0 535.0C1171.8 540.4 1173.4 552.0 1175.0 557.5C1175.9 560.7 1179.7 566.7 1180.0 570.0C1182.2 596.3 1183.7 676.6 1185.0 676.0C1186.3 675.4 1189.1 565.5 1190.5 565.0C1191.9 564.5 1193.8 648.9 1196.2 672.0C1196.4 673.9 1201.1 667.1 1201.2 665.0C1203.6 635.1 1203.8 571.6 1206.2 543.8C1206.4 542.2 1211.6 545.9 1211.8 547.5C1214.3 573.6 1215.7 655.4 1217.0 654.5C1218.4 653.5 1219.7 567.4 1222.5 540.0C1222.7 538.5 1227.5 539.6 1228.8 538.8C1230.2 537.7 1232.4 531.5 1233.0 532.5C1234.9 535.6 1238.2 549.2 1238.8 555.0C1240.9 578.0 1241.7 624.6 1243.8 647.5C1244.0 649.9 1246.5 654.6 1248.0 656.2C1248.9 657.2 1252.8 656.8 1253.5 658.0C1255.8 662.1 1257.7 673.2 1260.0 677.5C1260.6 678.7 1264.0 679.0 1265.0 680.0C1266.5 681.5 1268.4 686.5 1270.0 687.5C1270.9 688.1 1273.9 685.9 1275.0 686.2C1276.4 686.8 1278.6 690.9 1280.0 691.2C1281.4 691.6 1284.7 688.9 1286.2 688.8C1287.5 688.7 1290.1 690.8 1291.2 690.5C1292.6 690.2 1294.8 686.8 1296.2 686.2C1297.5 685.8 1300.9 686.9 1302.0 686.2C1303.6 685.2 1305.7 679.5 1307.0 679.5C1308.3 679.5 1311.0 684.6 1312.5 686.2C1314.3 688.2 1318.0 692.1 1320.0 693.8C1321.7 695.2 1325.5 698.0 1327.5 698.8C1329.2 699.4 1333.1 699.5 1335.0 699.5C1336.4 699.5 1339.2 698.8 1340.6 698.5C1342.0 698.2 1345.0 698.1 1346.2 697.5C1348.6 696.5 1352.7 692.9 1355.0 692.0C1356.1 691.6 1359.0 692.6 1360.0 692.0C1361.5 691.1 1363.5 687.3 1365.0 686.2C1366.3 685.3 1370.0 684.8 1371.2 683.8C1372.9 682.3 1374.5 677.4 1376.2 676.2C1378.3 674.9 1383.8 674.5 1386.2 673.8C1388.8 673.0 1393.7 670.8 1396.2 670.0C1397.6 669.6 1400.5 669.2 1401.9 669.0C1403.3 668.8 1406.4 667.4 1407.5 668.0C1409.4 669.2 1412.1 674.3 1413.8 676.2C1414.9 677.6 1417.9 679.8 1418.8 681.2C1420.4 683.9 1422.0 690.5 1423.8 693.0C1424.7 694.3 1429.1 694.8 1429.5 696.2C1431.2 702.8 1431.7 717.8 1432.0 725.0C1432.9 745.6 1432.7 787.4 1434.5 807.5C1434.7 809.3 1438.6 811.3 1440.0 812.5C1441.8 814.1 1445.4 817.5 1447.5 818.8C1449.2 819.7 1453.3 820.3 1455.0 821.2C1457.1 822.5 1460.9 825.7 1462.5 827.5C1464.6 829.8 1468.2 834.9 1470.0 837.5C1471.7 839.9 1475.2 844.8 1476.2 847.5C1478.2 852.6 1481.3 871.4 1482.0 868.8C1484.1 861.4 1485.1 822.1 1487.5 807.5C1487.7 806.2 1492.1 806.2 1492.5 805.0C1494.6 798.8 1496.1 777.8 1497.5 777.5C1498.8 777.2 1501.6 802.7 1503.0 802.5C1504.4 802.3 1506.5 781.2 1508.8 776.2C1509.2 775.2 1512.8 779.2 1513.8 778.8C1515.5 777.9 1517.7 771.7 1519.5 770.8C1520.5 770.2 1524.3 771.4 1525.0 772.5C1526.9 775.6 1529.6 783.6 1530.0 787.5C1532.3 811.7 1534.2 886.0 1535.5 885.0C1536.9 884.0 1538.0 804.7 1540.5 779.5C1540.6 778.2 1545.2 779.7 1546.0 778.8C1547.9 776.3 1550.0 765.7 1551.2 766.0C1552.7 766.3 1554.2 779.5 1556.5 781.2C1557.9 782.4 1563.6 777.8 1566.0 777.5C1567.5 777.3 1570.7 778.9 1572.2 779.4C1573.8 779.8 1577.0 781.5 1578.5 781.2C1581.0 780.9 1585.9 777.5 1588.5 777.0C1590.6 776.6 1595.6 776.5 1597.2 777.5C1599.3 778.8 1601.8 784.2 1603.5 786.2C1604.8 787.9 1608.0 792.8 1609.2 792.5C1610.8 792.2 1613.0 785.6 1614.8 783.8C1616.9 781.5 1623.0 775.5 1624.8 776.2C1626.9 777.1 1629.5 791.2 1630.5 790.0C1632.3 787.8 1634.1 765.8 1636.0 762.5C1636.7 761.3 1639.2 770.7 1641.0 772.0C1642.3 772.9 1646.7 771.0 1648.5 771.2C1650.4 771.5 1654.1 773.8 1656.0 773.8C1657.6 773.8 1661.7 770.0 1662.2 771.2C1664.6 776.3 1665.8 795.3 1667.8 798.8C1668.5 800.0 1671.9 789.6 1673.0 790.0C1674.5 790.5 1676.7 801.3 1678.5 802.5C1679.5 803.2 1682.4 798.2 1684.0 797.5C1685.2 797.0 1689.3 798.7 1689.8 797.5C1691.8 791.8 1692.0 776.1 1694.0 770.0C1694.5 768.6 1698.8 768.6 1699.8 767.5C1701.7 765.2 1704.2 756.2 1705.5 756.2C1706.7 756.2 1708.0 765.5 1709.8 767.5C1710.7 768.6 1714.6 768.1 1716.0 768.8C1717.4 769.4 1720.3 771.2 1721.0 772.5C1722.8 776.2 1724.6 788.4 1726.0 788.8C1727.2 789.0 1729.9 775.5 1731.5 775.0C1732.7 774.6 1735.4 783.7 1737.2 785.0C1738.1 785.6 1741.4 783.5 1742.2 782.5C1744.1 780.3 1746.3 772.9 1748.0 772.0C1749.0 771.5 1752.2 777.7 1753.0 777.0C1754.7 775.6 1756.3 764.9 1758.0 763.8C1759.0 763.1 1762.3 770.5 1763.5 770.0C1765.3 769.2 1767.9 761.3 1769.8 758.8C1771.0 757.0 1774.2 753.7 1776.0 752.5C1777.6 751.4 1781.6 749.9 1783.5 749.5C1785.3 749.1 1789.2 749.2 1791.0 749.5C1792.9 749.8 1796.6 751.8 1798.5 752.0C1800.0 752.2 1803.4 750.8 1804.8 751.2C1806.5 751.8 1809.3 755.7 1811.0 756.2C1812.1 756.6 1814.9 754.6 1816.0 755.0C1817.4 755.5 1819.6 759.1 1821.0 760.0C1822.1 760.7 1825.3 760.3 1826.0 761.2C1827.8 763.5 1829.8 769.7 1831.0 772.5C1832.0 774.7 1833.7 779.1 1834.8 781.2C1835.4 782.6 1837.2 785.0 1838.0 786.2L1838.0 776.2 L193.0 776.2 Z" fill="rgba(240,5,5,0.25)" stroke="none"/>
<path d="M193.0 442.5L351.0 442.5L358.8 436.2L448.8 436.2L455.0 436.2L458.0 430.8L464.0 430.8L470.0 424.2L790.0 424.2L800.0 418.0L1012.5 418.0L1018.8 412.0L1838.0 412.0" stroke="#3535ac" stroke-width="4.2" stroke-dasharray="20 10"/>
<path d="M193 978.7 L1838 978.7" stroke="#e89b32" stroke-width="3" stroke-dasharray="20 10"/>
<path d="M193.0 766.2C195.8 765.5 201.0 765.8 202.5 763.8C204.6 760.9 204.3 754.1 205.0 750.0C206.4 742.5 207.3 731.9 209.5 725.0C209.9 723.7 212.5 723.4 213.8 722.5C215.7 721.1 218.0 717.4 220.0 717.5C222.9 717.6 226.8 722.3 230.0 723.0C232.8 723.6 238.4 720.1 240.0 722.0C243.3 726.0 244.2 741.0 246.2 742.5C247.6 743.4 249.1 732.8 251.2 730.0C252.1 728.9 255.4 730.5 256.2 729.5C258.4 726.8 260.2 721.3 261.2 717.5C263.6 708.7 264.6 694.6 267.5 687.5C268.0 686.2 272.1 690.8 272.5 689.5C274.7 681.8 274.8 667.0 276.2 657.5C276.7 654.4 276.9 649.2 278.8 647.5C280.3 646.0 285.7 645.5 287.5 646.8C290.0 648.5 290.8 655.0 293.0 657.5C293.8 658.4 296.9 656.9 297.5 658.0C300.3 663.6 302.1 678.2 304.2 680.0C305.5 681.0 306.5 670.6 308.8 667.5C310.9 664.5 317.1 657.8 318.8 659.5C322.2 662.9 324.1 685.4 325.8 684.5C327.8 683.3 329.1 655.0 331.2 652.5C332.5 651.0 334.8 671.2 337.0 671.2C339.3 671.2 344.1 652.0 346.2 652.5C348.7 653.1 350.8 675.0 352.5 675.0C354.2 675.0 355.6 653.3 357.5 652.5C359.0 651.8 361.1 665.5 363.8 670.0C364.6 671.5 367.9 672.9 369.2 672.5C370.7 672.1 372.6 666.4 373.0 667.5C374.3 670.9 374.3 681.5 375.0 687.5C375.9 695.0 376.4 705.4 378.2 712.5C379.0 715.3 381.6 720.0 383.8 720.5C386.2 721.1 390.8 716.4 393.8 716.2C395.7 716.1 398.0 718.9 400.0 719.5C401.4 719.9 404.4 718.3 405.0 719.5C407.8 725.3 407.9 737.7 411.2 743.0C412.4 744.9 417.8 742.7 420.0 743.8C422.3 744.8 424.4 750.0 426.2 750.0C428.1 750.0 430.3 744.7 432.5 743.8C434.4 742.9 437.8 744.0 440.0 744.1C442.2 744.2 446.7 746.3 447.5 744.5C450.5 737.5 450.6 723.8 452.5 715.0C453.6 709.8 456.6 695.4 457.5 698.0C460.0 705.2 460.6 734.7 463.8 747.5C464.1 749.0 467.7 746.2 469.4 745.6C471.1 745.1 473.3 744.1 475.0 743.8C476.5 743.5 479.8 745.2 480.0 743.8C482.8 717.4 483.3 650.9 485.0 651.2C486.7 651.6 486.8 720.5 491.2 746.2C491.7 749.0 499.2 747.8 501.2 746.2C503.7 744.4 505.9 738.6 506.2 735.0C508.9 711.3 509.8 653.3 511.2 655.0C513.0 657.0 512.9 722.6 517.0 747.5C517.4 750.0 525.8 748.8 526.2 746.2C530.6 718.8 530.5 657.9 533.0 647.5C534.2 642.5 536.8 680.8 538.4 695.0C540.0 709.2 541.0 728.7 543.8 742.5C544.3 745.2 547.5 748.7 549.5 750.0C550.5 750.6 553.6 750.0 553.8 748.8C556.9 721.2 558.0 654.5 560.5 653.8C562.9 653.0 565.8 719.7 570.0 743.8C570.3 745.5 573.9 741.1 575.6 740.0C577.3 738.9 581.0 738.2 581.2 736.2C584.2 709.3 583.4 669.7 586.2 643.8C586.4 642.3 590.7 646.2 591.2 645.0C593.5 639.8 593.2 628.6 595.5 622.5C596.3 620.5 600.1 617.4 601.5 618.0C603.4 618.8 606.0 628.9 606.5 627.0C608.4 619.0 608.9 597.6 609.5 585.0C610.5 564.8 610.2 533.5 612.0 517.5C612.2 515.5 616.0 522.4 616.2 525.0C619.5 554.7 620.6 598.2 623.8 625.0C623.9 626.7 627.3 621.8 627.5 620.0C630.1 591.1 629.9 548.2 633.0 522.5C633.2 520.5 638.4 525.3 638.8 527.5C642.0 548.5 641.9 578.6 645.0 600.0C645.6 604.1 649.1 611.6 651.0 612.5C652.1 613.1 654.8 607.5 655.0 605.0C657.3 578.6 656.8 540.8 659.5 516.0C659.7 514.5 664.3 516.0 664.5 517.5C666.9 535.2 667.0 561.2 668.0 580.0C670.2 623.1 673.0 719.2 675.0 723.8C676.6 727.4 678.1 642.2 680.0 607.5C680.0 606.9 681.3 605.5 681.5 606.0C683.1 610.7 685.6 629.2 686.0 625.0C688.6 598.9 690.5 495.2 691.8 505.0C693.8 522.2 695.2 696.6 697.0 715.0C698.0 725.1 699.5 606.2 701.2 600.0C702.5 595.7 705.4 681.0 707.0 680.0C708.8 678.9 710.9 619.2 712.6 593.1C714.3 567.1 717.3 495.5 718.2 506.2C720.6 532.1 721.4 715.3 723.8 715.0C726.1 714.7 730.6 522.3 733.8 504.5C735.5 494.5 737.7 598.5 740.0 622.5C740.4 627.1 742.6 595.4 743.0 600.0C745.3 623.9 747.9 727.2 749.2 717.5C751.5 700.5 750.5 571.1 755.0 511.2C755.2 508.1 764.3 504.9 765.0 507.5C769.6 525.5 769.7 558.3 772.5 580.0C773.1 584.6 775.9 590.4 776.2 595.0C778.7 630.1 780.5 722.4 781.8 712.5C783.9 695.0 785.0 528.3 787.5 503.8C788.6 493.0 790.7 568.5 793.8 595.0C793.9 596.3 797.9 595.0 798.0 596.2C800.7 631.3 802.1 731.9 803.0 716.2C805.3 676.4 806.2 449.9 808.8 411.2C809.8 395.5 813.1 497.9 815.0 535.0C816.1 557.5 817.6 587.5 818.8 610.0C819.2 619.8 819.3 638.6 820.5 642.5C821.0 644.2 823.3 628.1 824.5 628.8C826.1 629.6 827.7 642.3 830.0 647.5C830.5 648.7 832.9 650.6 833.8 650.0C835.9 648.7 839.6 638.7 840.0 641.2C843.1 662.7 843.5 724.6 845.5 730.0C846.8 733.6 849.7 669.6 851.2 671.2C853.1 673.3 855.6 745.8 857.0 742.5C858.9 738.0 859.5 671.0 862.0 645.0C862.2 643.3 865.8 648.1 866.0 650.0C868.9 676.2 869.3 712.7 872.5 738.8C872.8 740.8 876.0 743.8 877.5 743.8C879.0 743.8 882.3 740.8 882.5 738.8C885.3 711.6 884.8 669.5 887.5 646.2C887.8 644.0 892.2 651.1 892.5 653.8C895.9 679.6 898.6 752.4 900.0 741.2C903.5 713.8 904.5 583.7 908.8 525.0C909.0 521.8 914.6 531.5 915.0 535.0C918.3 561.5 917.1 600.4 921.2 625.0C921.6 627.4 929.6 627.4 930.0 625.0C934.1 600.8 934.6 535.1 936.2 536.2C938.1 537.5 940.0 604.1 941.6 633.1C943.2 662.2 944.3 703.1 947.0 730.0C947.1 731.4 949.9 727.5 951.2 727.5C952.7 727.5 956.1 731.5 956.2 730.0C959.4 703.4 959.3 661.2 962.5 633.8C962.7 632.3 967.3 632.3 967.5 633.8C971.1 661.2 971.1 703.3 975.0 730.0C975.3 731.8 981.0 730.6 981.2 728.8C985.1 703.2 986.2 647.2 988.8 638.8C990.1 634.3 992.7 671.6 994.4 685.6C996.1 699.7 998.5 733.6 1000.0 732.5C1001.8 731.2 1003.9 678.1 1005.5 677.5C1007.0 677.0 1008.8 726.9 1010.5 728.8C1011.9 730.2 1014.5 686.3 1015.8 688.8C1017.5 692.3 1019.3 753.4 1020.5 748.8C1022.5 741.0 1024.2 652.5 1026.2 647.5C1027.8 643.9 1029.7 712.5 1032.5 720.0C1033.9 723.7 1038.3 695.6 1040.0 685.0C1041.7 674.6 1043.2 660.5 1043.8 650.0C1045.5 615.5 1046.2 569.5 1047.5 535.0C1048.9 497.1 1049.8 440.2 1052.5 408.8C1052.8 405.7 1057.2 416.3 1057.5 420.0C1060.9 461.7 1062.8 518.0 1065.0 560.0C1066.0 579.5 1067.1 630.4 1068.0 625.0C1069.7 615.4 1072.0 510.0 1073.8 510.0C1075.6 510.0 1077.1 591.6 1080.0 625.0C1080.1 626.1 1083.7 626.1 1083.8 625.0C1086.7 591.6 1086.1 542.2 1090.0 510.0C1090.3 507.9 1095.2 510.4 1097.5 510.6C1099.8 510.8 1103.0 511.9 1105.0 511.2C1106.9 510.6 1110.3 504.2 1110.5 506.2C1113.7 538.4 1114.5 634.8 1116.2 625.0C1119.3 607.8 1122.9 440.0 1126.2 416.2C1127.8 405.5 1128.1 486.2 1132.5 510.0C1133.0 512.8 1141.1 507.7 1142.5 505.0C1145.6 498.7 1146.5 487.6 1147.5 480.0C1149.7 464.3 1152.2 421.2 1153.2 427.5C1155.6 442.2 1157.2 549.6 1158.8 550.0C1160.3 550.4 1160.7 460.0 1163.8 430.0C1164.1 427.0 1168.9 436.7 1170.0 440.0C1172.3 447.2 1173.3 457.5 1175.0 465.0C1176.3 471.0 1179.5 478.9 1180.0 485.0C1182.5 517.5 1183.4 593.2 1185.0 593.8C1186.5 594.3 1188.9 487.7 1190.5 488.8C1192.2 489.9 1193.2 569.3 1196.2 601.2C1196.4 602.7 1201.1 601.5 1201.2 600.0C1204.1 566.6 1203.3 515.4 1206.2 485.0C1206.5 482.8 1211.5 488.8 1211.8 491.2C1214.7 523.7 1215.4 602.0 1217.0 601.2C1218.6 600.5 1219.2 519.0 1222.5 486.2C1222.7 484.5 1227.2 487.0 1228.8 486.2C1230.4 485.5 1232.2 480.2 1233.0 481.2C1235.2 484.3 1238.2 494.2 1238.8 500.0C1241.4 528.3 1241.0 567.0 1243.8 595.0C1244.0 597.4 1247.0 600.6 1248.8 601.2C1250.0 601.7 1252.8 597.9 1253.8 598.8C1256.2 600.9 1257.8 609.8 1260.0 611.2C1261.1 612.0 1263.4 606.4 1265.0 606.2C1266.4 606.1 1268.5 610.0 1270.0 610.0C1271.5 610.0 1273.5 606.2 1275.0 606.2C1276.5 606.2 1278.4 610.0 1280.0 610.0C1281.8 610.0 1284.3 606.5 1286.2 606.2C1287.7 606.1 1289.8 608.9 1291.2 608.8C1293.2 608.5 1295.8 604.8 1297.5 605.0C1299.0 605.2 1300.5 609.8 1302.0 610.0C1303.4 610.2 1305.6 605.9 1307.0 606.2C1308.8 606.7 1310.5 611.2 1312.5 612.5C1314.4 613.8 1317.7 614.5 1320.0 615.0C1322.2 615.4 1325.3 615.7 1327.5 615.5C1329.8 615.3 1332.7 614.1 1335.0 613.8C1336.7 613.5 1338.9 613.8 1340.6 613.8C1342.3 613.8 1344.6 614.2 1346.2 613.8C1349.0 613.0 1352.4 610.1 1355.0 610.0C1356.6 609.9 1358.6 613.2 1360.0 613.0C1361.6 612.8 1363.5 608.8 1365.0 608.8C1366.5 608.8 1368.3 612.3 1370.0 613.0C1371.3 613.6 1374.9 611.6 1375.0 613.0C1378.3 651.9 1378.0 710.6 1381.2 747.5C1381.4 749.4 1384.5 743.4 1386.2 742.5C1387.3 741.9 1390.4 743.7 1390.5 742.5C1393.4 705.8 1392.8 652.3 1396.2 616.0C1396.4 614.2 1400.9 616.2 1402.5 615.5C1404.2 614.8 1406.0 611.3 1407.5 611.2C1409.0 611.2 1410.9 614.8 1412.5 615.0C1413.9 615.2 1416.1 612.2 1417.5 612.5C1419.5 612.9 1422.0 617.6 1423.8 617.5C1425.4 617.4 1428.5 610.0 1428.8 612.0C1431.8 640.0 1430.7 688.7 1434.5 717.5C1434.8 719.7 1440.1 715.7 1442.5 715.5C1444.7 715.3 1447.8 715.9 1450.0 716.2C1453.0 716.7 1457.0 717.5 1460.0 718.0C1463.0 718.5 1467.2 720.0 1470.0 719.5C1472.1 719.1 1474.6 714.7 1476.2 715.0C1478.0 715.3 1481.0 723.2 1481.2 721.2C1484.0 703.0 1484.0 669.5 1486.2 647.5C1486.6 644.3 1488.8 640.5 1490.0 637.5C1490.6 636.0 1492.2 634.1 1492.5 632.5C1494.5 621.4 1495.5 597.8 1497.5 595.0C1498.7 593.3 1501.5 618.2 1503.0 617.5C1504.8 616.7 1506.1 595.8 1508.8 590.0C1509.3 588.7 1512.4 594.1 1513.8 593.8C1515.6 593.2 1518.1 586.5 1519.5 587.0C1521.4 587.6 1523.8 594.2 1525.0 597.5C1526.9 602.6 1529.5 609.6 1530.0 615.0C1532.7 646.7 1533.7 719.7 1535.5 721.2C1537.1 722.7 1538.3 649.8 1541.2 625.0C1541.5 622.9 1544.6 631.1 1546.2 631.5C1547.6 631.8 1550.4 626.2 1551.2 627.2C1553.4 629.8 1555.6 638.5 1556.0 643.5C1558.8 675.3 1558.5 720.0 1562.0 750.0C1562.2 751.8 1566.5 749.8 1568.5 749.8C1570.5 749.7 1573.0 749.5 1575.0 749.5C1576.8 749.5 1579.3 749.5 1581.2 749.5C1583.0 749.5 1585.5 749.5 1587.3 749.5C1589.2 749.5 1591.7 749.8 1593.5 749.5C1595.1 749.2 1597.1 747.3 1598.5 747.5C1600.1 747.7 1601.9 750.6 1603.5 750.8C1604.9 750.9 1607.7 750.0 1608.5 748.8C1610.7 745.3 1611.6 738.9 1613.5 735.0C1614.6 732.9 1616.7 730.3 1618.5 728.8C1620.1 727.3 1623.9 723.7 1624.8 725.0C1627.5 729.3 1628.7 746.8 1630.5 747.5C1631.9 748.1 1634.1 728.8 1635.5 729.5C1637.3 730.3 1639.1 745.7 1641.0 752.5C1642.2 756.9 1643.3 764.4 1646.0 767.0C1647.8 768.7 1653.7 765.8 1656.0 767.0C1658.2 768.2 1659.0 773.4 1661.0 775.0C1662.2 776.0 1665.1 775.3 1666.8 775.4C1668.6 775.5 1670.9 775.7 1672.7 775.8C1674.4 776.0 1677.6 777.4 1678.5 776.2C1680.8 773.4 1681.8 766.5 1683.5 762.5C1685.1 758.7 1688.5 754.0 1689.8 750.0C1691.8 743.5 1692.8 727.5 1694.2 727.5C1695.8 727.5 1697.2 743.8 1699.8 750.0C1700.7 752.4 1703.7 755.4 1706.0 756.2C1708.2 757.1 1713.3 753.9 1714.8 755.5C1717.8 759.1 1718.4 768.9 1721.0 773.8C1721.8 775.1 1724.4 775.9 1726.0 776.2C1727.5 776.6 1729.7 776.2 1731.3 776.2C1732.9 776.2 1735.1 776.2 1736.7 776.2C1738.3 776.2 1740.4 776.2 1742.0 776.2C1743.6 776.2 1745.7 776.2 1747.3 776.2C1748.9 776.2 1751.1 776.2 1752.7 776.2C1754.3 776.2 1756.4 776.2 1758.0 776.2C1759.6 776.2 1761.7 776.2 1763.3 776.2C1764.9 776.2 1767.1 776.2 1768.7 776.2C1770.3 776.2 1772.4 776.2 1774.0 776.2C1775.6 776.2 1777.7 776.2 1779.3 776.2C1780.9 776.2 1783.1 776.2 1784.7 776.2C1786.3 776.2 1788.4 776.2 1790.0 776.2C1791.6 776.2 1793.7 776.2 1795.3 776.2C1796.9 776.2 1799.1 776.2 1800.7 776.2C1802.3 776.2 1804.4 776.2 1806.0 776.2C1807.6 776.2 1809.7 776.2 1811.3 776.2C1812.9 776.2 1815.1 776.2 1816.7 776.2C1818.3 776.2 1820.4 776.2 1822.0 776.2C1823.6 776.2 1825.7 776.2 1827.3 776.2C1828.9 776.2 1831.1 776.2 1832.7 776.2C1834.3 776.2 1836.4 776.2 1838.0 776.2" stroke="rgba(232,233,200,0.85)" stroke-width="4.6"/>
<path d="M193.0 601.2C197.2 603.0 201.2 603.9 205.0 606.2C208.9 608.7 211.8 611.6 215.0 615.0C218.8 619.1 221.3 623.3 225.0 627.5C227.9 630.7 230.3 633.7 233.8 636.2C236.0 637.9 238.7 639.5 241.2 639.5C243.5 639.5 245.9 638.0 247.5 636.2C250.7 632.9 253.0 629.2 255.0 625.0C257.8 619.2 259.5 613.7 261.2 607.5C263.4 599.7 264.3 592.8 266.2 585.0C267.8 578.8 268.9 573.4 271.2 567.5C272.4 564.6 274.0 561.9 276.2 560.0C277.5 558.9 279.6 558.4 281.2 558.8C283.1 559.1 284.8 560.5 286.2 562.0C288.7 564.5 290.0 567.5 292.5 570.0C294.8 572.3 297.1 574.2 300.0 575.5C303.2 577.0 306.5 577.7 310.0 578.0C312.6 578.2 315.2 578.1 317.5 577.0C320.4 575.7 322.0 572.5 325.0 571.2C328.2 569.9 331.5 570.1 335.0 569.5C338.9 568.8 342.3 567.6 346.2 567.5C349.3 567.4 352.0 567.9 355.0 568.8C357.7 569.5 360.0 570.6 362.5 572.0C365.3 573.6 367.7 575.3 370.0 577.5C372.9 580.3 374.7 583.4 377.5 586.2C379.5 588.2 381.3 590.1 383.8 591.2C386.1 592.3 388.7 592.7 391.2 592.5C393.9 592.3 396.3 591.2 398.8 590.0C401.1 588.8 402.6 586.8 405.0 585.5C408.3 583.7 411.7 583.0 415.0 581.2C418.2 579.5 420.6 577.4 423.8 575.5C425.9 574.2 427.7 572.8 430.0 572.0C432.5 571.1 434.9 570.7 437.5 570.8C441.2 570.9 448.0 572.5 448.0 572.5C448.0 572.5 449.5 555.0 449.5 555.0C449.5 555.0 453.2 512.5 453.2 512.5C453.2 512.5 460.9 514.4 465.0 514.5C469.4 514.6 473.1 512.8 477.5 513.0C482.8 513.2 487.2 515.3 492.5 515.5C496.9 515.7 500.6 514.6 505.0 514.0C508.9 513.5 512.4 512.2 516.2 512.5C519.0 512.7 521.4 514.0 523.8 515.5C527.1 517.5 529.2 520.3 532.5 522.5C534.9 524.1 537.2 525.8 540.0 526.2C542.5 526.7 544.9 525.2 547.5 525.0C549.7 524.8 552.0 524.0 553.8 525.0C556.8 526.7 558.6 529.9 561.2 532.5C564.3 535.6 566.6 539.5 570.0 541.2C571.4 542.0 573.6 540.6 575.0 539.5C578.0 537.1 579.8 534.1 582.5 531.2C585.5 528.1 587.7 524.9 591.2 522.5C593.9 520.7 596.9 519.7 600.0 519.5C603.4 519.3 606.5 520.6 610.0 521.2C613.5 521.9 616.6 522.0 620.0 523.0C623.6 524.0 626.8 525.1 630.0 527.0C633.8 529.3 637.2 531.6 640.0 535.0C643.3 539.0 645.1 543.3 647.5 548.0C650.2 553.1 651.7 558.0 654.5 563.0C656.4 566.4 658.1 569.9 661.0 572.2C663.2 574.0 666.1 574.2 669.0 574.8C673.1 575.5 677.0 576.5 681.0 575.8C683.9 575.2 686.1 572.9 688.8 571.2C691.9 569.3 694.1 566.6 697.5 565.5C702.4 563.9 707.2 564.3 712.5 563.8C717.7 563.2 722.5 563.8 727.5 562.5C731.2 561.6 734.0 559.2 737.5 557.5C741.0 555.8 743.9 553.9 747.5 552.5C751.7 550.9 755.7 550.1 760.0 548.8C764.4 547.3 768.0 545.6 772.5 544.5C775.9 543.6 779.0 542.8 782.5 543.0C786.0 543.2 789.0 545.6 792.5 545.5C796.0 545.4 799.3 544.2 802.5 542.5C805.5 540.9 807.7 538.7 810.0 536.2C812.9 533.1 814.9 529.8 817.5 526.2C820.1 522.8 822.1 519.4 825.0 516.2C827.3 513.8 829.5 511.5 832.5 510.0C834.8 508.9 837.4 508.7 840.0 508.8C844.4 508.9 848.1 509.8 852.5 510.5C857.8 511.3 862.3 513.2 867.5 513.0C871.9 512.8 875.5 510.3 880.0 509.5C885.2 508.6 889.7 508.2 895.0 508.0C902.0 507.7 908.0 507.6 915.0 508.0C920.3 508.3 924.7 509.8 930.0 510.0C937.0 510.3 943.0 509.3 950.0 509.5C955.3 509.7 959.8 510.3 965.0 511.2C970.3 512.2 974.7 513.8 980.0 515.0C985.2 516.2 989.9 516.5 995.0 518.0C998.7 519.1 1002.1 520.1 1005.0 522.5C1008.3 525.2 1010.4 528.7 1012.5 532.5C1015.7 538.3 1017.7 543.8 1020.0 550.0C1022.9 557.8 1025.0 564.6 1027.5 572.5C1030.3 581.2 1032.7 588.7 1035.0 597.5C1037.1 605.3 1038.2 612.1 1040.0 620.0C1041.8 627.9 1042.9 634.7 1045.0 642.5C1046.4 647.8 1047.7 652.5 1050.0 657.5C1052.1 662.1 1054.3 666.1 1057.5 670.0C1060.4 673.5 1063.6 676.6 1067.5 678.8C1069.7 680.0 1072.7 680.4 1075.0 679.5C1078.4 678.2 1081.3 675.5 1083.8 672.5C1087.5 667.8 1089.8 662.9 1092.5 657.5C1096.3 649.8 1099.0 642.9 1102.5 635.0C1106.0 627.1 1108.2 619.9 1112.5 612.5C1115.2 607.8 1118.2 603.6 1122.5 600.5C1126.1 597.9 1130.6 596.6 1135.0 596.2C1138.5 596.0 1141.8 597.2 1145.0 598.8C1148.8 600.7 1151.4 603.8 1155.0 606.2C1159.2 609.1 1163.0 611.3 1167.5 613.8C1171.8 616.1 1176.1 617.2 1180.0 620.0C1184.0 622.9 1186.7 626.3 1190.0 630.0C1193.7 634.2 1196.1 638.5 1200.0 642.5C1203.1 645.7 1206.1 648.5 1210.0 650.5C1214.0 652.5 1218.1 653.0 1222.5 653.8C1226.8 654.5 1230.6 654.7 1235.0 655.0C1238.1 655.2 1241.0 656.0 1243.8 655.0C1247.1 653.8 1250.0 651.5 1252.5 648.8C1256.5 644.5 1258.4 639.2 1262.5 635.0C1265.4 632.0 1268.8 630.0 1272.5 628.0C1275.8 626.3 1278.9 625.4 1282.5 624.5C1285.5 623.7 1288.4 622.6 1291.2 623.2C1294.6 624.1 1296.9 626.9 1300.0 628.8C1302.6 630.4 1304.7 632.0 1307.5 633.2C1309.1 634.0 1310.9 634.7 1312.5 634.2C1315.2 633.5 1317.5 631.7 1320.0 630.0C1322.8 628.0 1324.7 625.6 1327.5 623.8C1329.5 622.4 1331.4 621.0 1333.8 620.8C1336.7 620.4 1339.4 621.5 1342.5 622.0C1346.0 622.6 1349.1 622.9 1352.5 623.8C1356.1 624.6 1359.2 625.5 1362.5 627.0C1364.9 628.1 1366.9 629.4 1368.8 631.2C1370.1 632.6 1371.5 636.0 1371.5 636.0C1371.5 636.0 1376.2 776.0 1376.2 776.0C1376.2 776.0 1391.2 776.0 1391.2 776.0C1391.2 776.0 1396.2 652.5 1396.2 652.5C1396.2 652.5 1401.5 652.5 1403.8 651.2C1407.2 649.4 1409.8 646.8 1412.5 643.8C1416.4 639.3 1418.9 634.7 1422.5 630.0C1425.9 625.5 1428.7 621.6 1432.5 617.5C1435.7 614.1 1438.7 611.4 1442.5 608.8C1445.7 606.6 1449.0 605.5 1452.5 603.8C1455.1 602.4 1457.8 601.8 1460.0 600.0C1463.0 597.5 1465.4 594.7 1467.5 591.2C1470.7 585.9 1472.5 580.7 1475.0 575.0C1477.7 568.9 1479.9 563.6 1482.5 557.5C1485.1 551.4 1487.0 545.9 1490.0 540.0C1492.3 535.4 1494.5 531.6 1497.5 527.5C1499.3 525.0 1501.2 522.9 1503.8 521.2C1505.6 520.1 1507.8 519.4 1510.0 519.5C1512.6 519.6 1515.2 520.6 1517.5 522.0C1520.4 523.8 1522.4 526.3 1525.0 528.8C1527.7 531.3 1530.2 533.3 1532.5 536.2C1535.5 540.1 1537.4 543.9 1540.0 548.0C1542.6 552.2 1544.9 555.8 1547.5 560.0C1550.2 564.4 1552.1 568.4 1555.0 572.5C1557.1 575.5 1559.0 579.3 1562.0 580.5C1564.3 581.4 1567.3 579.4 1570.0 578.5C1572.9 577.5 1575.2 575.1 1578.0 575.0C1580.8 574.9 1583.2 576.9 1586.0 578.0C1588.6 579.0 1591.0 581.3 1593.5 581.0C1596.2 580.7 1599.0 578.7 1601.0 576.5C1603.8 573.6 1604.9 569.9 1607.2 566.5C1609.3 563.4 1610.8 560.4 1613.5 558.0C1615.6 556.2 1618.4 554.4 1621.0 554.5C1623.7 554.6 1626.6 556.5 1628.5 558.8C1631.9 562.8 1633.8 567.5 1636.0 572.5C1639.0 579.3 1641.1 585.4 1643.5 592.5C1646.3 600.7 1648.1 607.9 1651.0 616.0C1652.9 621.2 1654.5 625.9 1657.2 630.5C1658.4 632.4 1660.5 634.8 1662.2 634.8C1664.0 634.7 1666.3 632.1 1667.2 630.0C1670.2 623.5 1671.5 617.1 1673.5 610.0C1675.9 601.3 1677.4 593.7 1679.8 585.0C1681.4 578.8 1682.3 573.3 1684.8 567.5C1685.8 565.0 1687.9 561.5 1689.8 561.2C1691.4 561.0 1693.9 564.0 1694.8 566.2C1697.8 574.1 1698.8 581.7 1701.0 590.0C1703.1 597.9 1704.7 604.7 1707.2 612.5C1709.1 618.2 1710.5 623.4 1713.5 628.5C1715.3 631.6 1717.9 634.2 1721.0 636.0C1723.2 637.3 1726.0 636.6 1728.5 637.5C1731.2 638.5 1733.7 639.5 1736.0 641.2C1738.9 643.4 1741.3 645.8 1743.5 648.8C1746.6 653.0 1748.5 657.3 1751.0 662.0C1753.8 667.2 1755.9 671.7 1758.5 677.0C1761.2 682.4 1763.0 687.3 1766.0 692.5C1768.2 696.4 1770.5 699.7 1773.5 703.0C1775.7 705.4 1778.1 707.4 1781.0 708.8C1783.3 709.8 1785.9 710.0 1788.5 710.0C1791.1 710.0 1793.4 709.4 1796.0 708.8C1799.6 707.8 1802.6 706.8 1806.0 705.5C1809.6 704.2 1812.5 702.8 1816.0 701.2C1818.7 700.0 1821.4 699.4 1823.5 697.5C1826.2 695.0 1827.9 692.0 1829.8 688.8C1831.9 685.0 1833.0 681.4 1834.8 677.5C1835.9 674.9 1836.9 672.6 1838.0 670.0" stroke="#78f55a" stroke-width="2"/>
<path d="M193.0 783.8C194.5 782.8 197.5 780.9 199.0 780.0C200.5 779.1 203.6 777.4 205.0 776.2C207.3 774.4 211.4 769.2 213.8 768.0C214.6 767.6 216.8 769.2 217.5 770.0C219.3 771.9 221.8 777.3 223.8 778.8C224.6 779.4 227.7 779.4 228.8 778.8C230.9 777.5 234.1 772.6 236.2 771.2C237.3 770.6 240.8 769.5 241.2 770.5C243.1 774.5 243.8 788.3 245.5 791.2C246.0 792.2 249.2 785.6 250.0 786.2C251.9 787.8 254.2 797.0 256.2 800.0C257.0 801.2 260.2 803.3 261.2 803.0C262.7 802.6 265.4 796.7 266.2 797.5C268.2 799.4 271.6 815.4 272.5 813.8C274.6 810.1 275.3 784.7 278.2 776.2C279.1 773.8 285.1 771.1 287.5 770.5C288.7 770.2 291.3 772.6 292.5 772.5C293.8 772.4 296.9 768.5 297.5 769.5C299.8 773.2 302.4 790.3 304.2 791.2C305.5 791.9 307.8 779.3 310.0 776.2C311.4 774.3 317.8 769.7 318.8 771.2C321.7 776.1 324.3 802.2 325.8 802.0C327.3 801.8 329.2 771.6 330.8 770.0C331.8 768.9 334.4 791.0 336.2 791.2C338.1 791.5 343.6 771.7 345.5 772.0C347.5 772.3 350.6 794.0 352.0 793.8C353.6 793.5 355.9 771.1 357.5 770.0C358.7 769.2 361.2 783.7 363.2 786.2C364.0 787.1 367.7 784.8 368.8 783.8C370.3 782.3 372.3 776.4 373.8 776.2C375.1 776.1 378.2 781.9 380.0 782.5C381.3 783.0 384.7 781.1 386.2 780.6C387.8 780.2 391.1 778.4 392.5 778.8C395.1 779.5 400.8 782.7 402.5 785.0C405.2 788.6 408.3 802.0 410.0 802.0C411.7 802.0 414.1 788.1 416.2 785.0C416.9 784.1 420.4 785.4 421.2 786.2C422.9 787.9 425.2 795.4 426.2 795.0C427.7 794.5 429.2 784.6 431.2 782.5C432.4 781.3 436.9 782.0 438.8 781.9C440.6 781.7 444.7 780.6 446.2 781.2C448.1 782.0 451.5 788.3 452.5 787.5C454.4 786.1 457.4 770.0 458.0 772.5C460.3 782.5 461.6 827.8 463.8 837.5C464.3 840.0 466.8 824.4 468.8 821.2C469.4 820.2 473.0 820.8 474.4 820.6C475.8 820.5 479.9 821.3 480.0 820.0C482.5 797.1 484.0 717.8 485.0 723.8C486.6 733.5 488.5 864.9 490.5 882.5C491.3 889.3 493.8 835.7 496.2 821.2C496.5 820.0 500.5 820.9 501.2 820.0C503.0 818.1 505.9 812.8 506.2 810.0C508.4 790.6 510.3 725.5 511.2 731.2C512.9 741.7 514.9 858.3 516.8 875.0C517.4 881.1 519.0 835.2 521.2 822.5C521.7 820.2 527.2 817.4 527.5 815.0C530.2 790.2 531.6 715.8 533.0 713.8C534.2 712.0 536.7 778.4 538.0 800.0C539.2 818.4 541.5 871.3 543.0 873.8C544.2 875.6 546.3 831.2 548.8 817.5C549.1 815.2 554.0 812.3 554.2 810.0C556.7 786.3 558.1 715.1 559.5 713.8C560.8 712.6 563.5 778.4 565.0 800.0C566.0 815.0 568.3 861.2 569.5 860.0C570.8 858.7 572.5 806.3 575.0 790.0C575.2 788.8 579.9 791.2 580.0 790.0C582.5 770.6 584.0 708.8 585.5 707.5C586.8 706.3 589.2 769.8 591.2 780.0C591.8 782.9 595.2 759.2 596.2 760.0C597.7 761.1 599.3 780.9 601.2 787.5C601.8 789.4 606.1 795.5 606.2 793.8C608.8 769.9 609.9 698.9 612.0 685.0C612.7 680.5 616.7 711.2 617.5 720.0C619.5 741.8 621.1 796.1 623.0 807.5C623.6 811.1 626.9 786.9 627.5 780.0C629.5 755.1 631.0 690.7 633.2 680.0C634.2 675.7 638.6 710.0 640.0 720.0C641.5 731.2 642.7 754.9 645.0 765.0C645.2 766.1 649.3 765.9 650.0 765.0C651.8 762.6 654.7 755.5 655.0 752.0C657.2 726.8 657.7 674.9 660.0 650.5C660.1 649.4 664.4 648.9 664.5 650.0C666.7 676.3 667.6 732.5 669.0 760.0C670.2 783.8 673.5 852.2 675.0 855.0C676.2 857.2 677.8 798.6 680.0 780.0C680.6 774.5 685.8 764.2 686.2 758.8C688.6 730.4 690.3 636.0 691.2 644.5C693.0 660.1 695.1 831.4 697.0 855.0C697.7 864.0 699.9 794.8 702.0 775.0C702.5 770.2 706.9 761.1 707.5 756.2C710.8 729.2 716.1 638.9 717.5 647.5C720.2 663.9 721.7 855.9 723.8 856.2C725.8 856.6 731.2 663.1 733.8 650.0C735.3 642.2 737.9 751.4 740.0 772.5C740.4 776.4 743.4 746.1 743.8 750.0C745.7 770.8 748.4 878.9 749.5 871.2C751.3 858.3 751.8 716.6 755.5 667.5C755.7 665.2 764.5 663.5 765.0 665.5C768.4 679.1 769.2 713.9 771.2 730.0C772.0 736.3 775.8 748.7 776.2 755.0C778.4 785.2 780.9 889.2 781.8 876.2C783.8 843.9 785.7 595.7 787.5 573.8C788.5 561.7 790.7 698.6 793.0 740.0C793.3 745.1 797.6 754.9 798.0 760.0C800.1 789.6 802.2 891.6 803.0 878.8C804.9 846.3 806.7 604.6 808.8 578.8C809.7 566.1 813.6 688.4 815.0 725.0C816.1 752.8 817.3 830.4 818.8 836.2C819.7 840.1 822.4 772.2 824.5 763.8C825.3 760.6 828.1 783.6 830.0 790.0C830.7 792.4 833.6 798.4 835.0 798.8C836.1 799.0 839.8 790.8 840.0 792.5C842.5 810.8 844.1 874.4 845.8 878.8C846.9 881.6 848.8 834.7 851.2 821.2C851.5 820.0 856.1 821.2 856.2 820.0C858.7 796.6 860.3 725.3 861.8 722.5C862.9 720.3 865.7 780.6 867.0 800.0C868.4 820.0 871.0 876.9 872.5 880.0C873.6 882.3 875.2 835.4 877.5 821.2C877.7 819.8 882.3 819.0 882.5 817.5C885.0 795.6 886.7 729.9 888.2 727.5C889.5 725.5 892.2 781.9 893.5 800.0C894.8 818.7 897.5 877.4 898.8 875.0C900.4 871.9 904.0 802.3 905.0 778.0C906.8 735.0 908.7 606.7 910.0 606.0C911.2 605.3 913.1 730.9 915.0 772.5C915.6 785.4 918.7 822.7 920.0 823.8C921.2 824.6 922.9 790.6 925.0 780.0C925.4 777.8 929.7 774.7 930.0 772.5C932.4 755.6 934.6 700.9 935.8 703.8C937.4 707.8 939.8 775.9 941.2 800.0C942.4 818.8 944.8 873.7 946.2 875.0C947.5 876.2 949.5 824.8 952.0 810.0C952.2 808.8 956.9 812.5 957.0 811.2C959.5 788.1 961.0 715.5 962.5 712.5C963.7 710.2 966.3 770.6 967.5 790.0C968.8 811.2 971.1 872.6 972.5 875.0C973.6 876.9 975.4 824.1 977.5 807.5C977.9 804.8 982.2 800.3 982.5 797.5C985.0 776.2 987.2 712.2 988.8 711.2C990.1 710.4 992.5 770.3 994.0 790.0C995.2 806.3 998.0 853.6 999.5 855.0C1000.8 856.1 1003.0 813.6 1005.0 800.0C1005.6 796.1 1009.4 788.9 1010.0 785.0C1011.9 773.0 1013.7 736.4 1015.0 736.2C1016.3 736.1 1019.7 788.7 1020.5 783.8C1022.5 771.8 1024.7 669.9 1026.2 668.8C1027.7 667.7 1030.3 748.5 1032.5 775.0C1033.0 781.3 1035.9 800.0 1037.0 800.0C1038.1 800.0 1040.8 781.3 1041.2 775.0C1043.1 750.1 1045.3 700.0 1046.2 675.0C1047.5 640.0 1048.8 570.0 1050.0 535.0C1050.7 513.7 1051.8 469.9 1053.8 450.0C1053.8 449.0 1057.9 450.2 1058.0 451.2C1060.7 480.8 1063.4 542.2 1065.0 572.5C1066.1 592.2 1067.9 654.8 1068.8 651.2C1070.0 646.1 1072.4 539.0 1073.8 537.5C1075.0 536.2 1076.9 614.5 1079.0 640.0C1079.4 645.1 1083.3 663.5 1083.8 660.0C1086.1 641.6 1087.1 571.7 1090.0 552.5C1090.5 549.1 1095.6 565.4 1097.5 569.8C1099.4 574.1 1103.0 582.7 1105.0 587.0C1106.3 589.7 1110.3 594.6 1110.5 597.5C1113.1 629.1 1114.7 732.1 1116.2 725.0C1118.7 713.7 1123.5 541.8 1126.2 523.8C1127.6 515.2 1128.9 598.6 1132.5 618.8C1132.9 621.1 1141.5 616.1 1142.5 613.8C1145.2 607.6 1146.6 592.2 1147.5 585.0C1149.3 571.3 1152.4 525.0 1153.2 530.0C1155.2 540.8 1157.4 649.0 1158.8 648.5C1160.2 648.0 1161.9 552.4 1164.5 526.2C1164.7 524.0 1169.2 532.6 1170.0 535.0C1171.8 540.4 1173.4 552.0 1175.0 557.5C1175.9 560.7 1179.7 566.7 1180.0 570.0C1182.2 596.3 1183.7 676.6 1185.0 676.0C1186.3 675.4 1189.1 565.5 1190.5 565.0C1191.9 564.5 1193.8 648.9 1196.2 672.0C1196.4 673.9 1201.1 667.1 1201.2 665.0C1203.6 635.1 1203.8 571.6 1206.2 543.8C1206.4 542.2 1211.6 545.9 1211.8 547.5C1214.3 573.6 1215.7 655.4 1217.0 654.5C1218.4 653.5 1219.7 567.4 1222.5 540.0C1222.7 538.5 1227.5 539.6 1228.8 538.8C1230.2 537.7 1232.4 531.5 1233.0 532.5C1234.9 535.6 1238.2 549.2 1238.8 555.0C1240.9 578.0 1241.7 624.6 1243.8 647.5C1244.0 649.9 1246.5 654.6 1248.0 656.2C1248.9 657.2 1252.8 656.8 1253.5 658.0C1255.8 662.1 1257.7 673.2 1260.0 677.5C1260.6 678.7 1264.0 679.0 1265.0 680.0C1266.5 681.5 1268.4 686.5 1270.0 687.5C1270.9 688.1 1273.9 685.9 1275.0 686.2C1276.4 686.8 1278.6 690.9 1280.0 691.2C1281.4 691.6 1284.7 688.9 1286.2 688.8C1287.5 688.7 1290.1 690.8 1291.2 690.5C1292.6 690.2 1294.8 686.8 1296.2 686.2C1297.5 685.8 1300.9 686.9 1302.0 686.2C1303.6 685.2 1305.7 679.5 1307.0 679.5C1308.3 679.5 1311.0 684.6 1312.5 686.2C1314.3 688.2 1318.0 692.1 1320.0 693.8C1321.7 695.2 1325.5 698.0 1327.5 698.8C1329.2 699.4 1333.1 699.5 1335.0 699.5C1336.4 699.5 1339.2 698.8 1340.6 698.5C1342.0 698.2 1345.0 698.1 1346.2 697.5C1348.6 696.5 1352.7 692.9 1355.0 692.0C1356.1 691.6 1359.0 692.6 1360.0 692.0C1361.5 691.1 1363.5 687.3 1365.0 686.2C1366.3 685.3 1370.0 684.8 1371.2 683.8C1372.9 682.3 1374.5 677.4 1376.2 676.2C1378.3 674.9 1383.8 674.5 1386.2 673.8C1388.8 673.0 1393.7 670.8 1396.2 670.0C1397.6 669.6 1400.5 669.2 1401.9 669.0C1403.3 668.8 1406.4 667.4 1407.5 668.0C1409.4 669.2 1412.1 674.3 1413.8 676.2C1414.9 677.6 1417.9 679.8 1418.8 681.2C1420.4 683.9 1422.0 690.5 1423.8 693.0C1424.7 694.3 1429.1 694.8 1429.5 696.2C1431.2 702.8 1431.7 717.8 1432.0 725.0C1432.9 745.6 1432.7 787.4 1434.5 807.5C1434.7 809.3 1438.6 811.3 1440.0 812.5C1441.8 814.1 1445.4 817.5 1447.5 818.8C1449.2 819.7 1453.3 820.3 1455.0 821.2C1457.1 822.5 1460.9 825.7 1462.5 827.5C1464.6 829.8 1468.2 834.9 1470.0 837.5C1471.7 839.9 1475.2 844.8 1476.2 847.5C1478.2 852.6 1481.3 871.4 1482.0 868.8C1484.1 861.4 1485.1 822.1 1487.5 807.5C1487.7 806.2 1492.1 806.2 1492.5 805.0C1494.6 798.8 1496.1 777.8 1497.5 777.5C1498.8 777.2 1501.6 802.7 1503.0 802.5C1504.4 802.3 1506.5 781.2 1508.8 776.2C1509.2 775.2 1512.8 779.2 1513.8 778.8C1515.5 777.9 1517.7 771.7 1519.5 770.8C1520.5 770.2 1524.3 771.4 1525.0 772.5C1526.9 775.6 1529.6 783.6 1530.0 787.5C1532.3 811.7 1534.2 886.0 1535.5 885.0C1536.9 884.0 1538.0 804.7 1540.5 779.5C1540.6 778.2 1545.2 779.7 1546.0 778.8C1547.9 776.3 1550.0 765.7 1551.2 766.0C1552.7 766.3 1554.2 779.5 1556.5 781.2C1557.9 782.4 1563.6 777.8 1566.0 777.5C1567.5 777.3 1570.7 778.9 1572.2 779.4C1573.8 779.8 1577.0 781.5 1578.5 781.2C1581.0 780.9 1585.9 777.5 1588.5 777.0C1590.6 776.6 1595.6 776.5 1597.2 777.5C1599.3 778.8 1601.8 784.2 1603.5 786.2C1604.8 787.9 1608.0 792.8 1609.2 792.5C1610.8 792.2 1613.0 785.6 1614.8 783.8C1616.9 781.5 1623.0 775.5 1624.8 776.2C1626.9 777.1 1629.5 791.2 1630.5 790.0C1632.3 787.8 1634.1 765.8 1636.0 762.5C1636.7 761.3 1639.2 770.7 1641.0 772.0C1642.3 772.9 1646.7 771.0 1648.5 771.2C1650.4 771.5 1654.1 773.8 1656.0 773.8C1657.6 773.8 1661.7 770.0 1662.2 771.2C1664.6 776.3 1665.8 795.3 1667.8 798.8C1668.5 800.0 1671.9 789.6 1673.0 790.0C1674.5 790.5 1676.7 801.3 1678.5 802.5C1679.5 803.2 1682.4 798.2 1684.0 797.5C1685.2 797.0 1689.3 798.7 1689.8 797.5C1691.8 791.8 1692.0 776.1 1694.0 770.0C1694.5 768.6 1698.8 768.6 1699.8 767.5C1701.7 765.2 1704.2 756.2 1705.5 756.2C1706.7 756.2 1708.0 765.5 1709.8 767.5C1710.7 768.6 1714.6 768.1 1716.0 768.8C1717.4 769.4 1720.3 771.2 1721.0 772.5C1722.8 776.2 1724.6 788.4 1726.0 788.8C1727.2 789.0 1729.9 775.5 1731.5 775.0C1732.7 774.6 1735.4 783.7 1737.2 785.0C1738.1 785.6 1741.4 783.5 1742.2 782.5C1744.1 780.3 1746.3 772.9 1748.0 772.0C1749.0 771.5 1752.2 777.7 1753.0 777.0C1754.7 775.6 1756.3 764.9 1758.0 763.8C1759.0 763.1 1762.3 770.5 1763.5 770.0C1765.3 769.2 1767.9 761.3 1769.8 758.8C1771.0 757.0 1774.2 753.7 1776.0 752.5C1777.6 751.4 1781.6 749.9 1783.5 749.5C1785.3 749.1 1789.2 749.2 1791.0 749.5C1792.9 749.8 1796.6 751.8 1798.5 752.0C1800.0 752.2 1803.4 750.8 1804.8 751.2C1806.5 751.8 1809.3 755.7 1811.0 756.2C1812.1 756.6 1814.9 754.6 1816.0 755.0C1817.4 755.5 1819.6 759.1 1821.0 760.0C1822.1 760.7 1825.3 760.3 1826.0 761.2C1827.8 763.5 1829.8 769.7 1831.0 772.5C1832.0 774.7 1833.7 779.1 1834.8 781.2C1835.4 782.6 1837.2 785.0 1838.0 786.2" stroke="rgba(218,40,30,0.78)" stroke-width="1.9"/>
<line x1="193" y1="776.4" x2="1838" y2="776.4" stroke="rgba(66,60,86,0.9)" stroke-width="4.6"/>
<path d="M193.0 618.5C193.8 618.5 197.6 618.5 198.4 618.5C199.2 618.5 203.6 617.8 203.8 618.5C205.0 623.8 206.7 653.1 208.0 658.5C208.2 659.3 213.3 658.8 213.8 659.5C215.1 661.7 219.0 674.8 220.0 677.5C220.6 679.1 223.9 686.9 225.0 688.0C225.5 688.5 229.6 688.0 230.5 688.0C231.3 688.0 235.1 688.0 235.9 688.0C236.7 688.0 240.6 688.0 241.4 688.0C242.2 688.0 246.0 688.0 246.9 688.0C247.7 688.0 251.5 688.0 252.3 688.0C253.1 688.0 257.0 688.0 257.8 688.0C258.6 688.0 262.4 688.0 263.2 688.0C264.1 688.0 267.9 688.0 268.7 688.0C269.5 688.0 273.3 688.0 274.2 688.0C275.0 688.0 278.8 688.0 279.6 688.0C280.4 688.0 284.3 688.0 285.1 688.0C285.9 688.0 289.7 688.0 290.6 688.0C291.4 688.0 295.2 688.0 296.0 688.0C296.8 688.0 300.7 688.0 301.5 688.0C302.3 688.0 306.1 688.0 306.9 688.0C307.8 688.0 311.6 688.0 312.4 688.0C313.2 688.0 317.1 688.0 317.9 688.0C318.7 688.0 322.5 688.0 323.3 688.0C324.2 688.0 328.0 688.0 328.8 688.0C329.6 688.0 333.4 688.0 334.3 688.0C335.1 688.0 338.9 688.0 339.7 688.0C340.5 688.0 344.4 688.0 345.2 688.0C346.0 688.0 349.8 688.0 350.6 688.0C351.5 688.0 355.3 688.0 356.1 688.0C356.9 688.0 360.8 688.0 361.6 688.0C362.4 688.0 366.2 688.0 367.0 688.0C367.9 688.0 372.3 688.7 372.5 688.0C373.9 683.6 376.0 658.3 377.5 654.0C377.8 653.2 383.1 654.0 384.1 654.0C385.0 654.0 389.6 654.0 390.6 654.0C391.6 654.0 396.2 654.0 397.2 654.0C398.2 654.0 403.2 654.6 403.8 654.0C405.1 652.5 409.2 642.2 410.0 640.0C411.1 637.1 414.6 622.1 416.2 620.0C417.0 619.0 425.2 619.8 426.2 619.0C427.5 618.0 430.1 609.3 431.2 608.2C432.0 607.6 437.6 608.0 438.8 608.0C439.9 608.0 445.5 608.4 446.2 607.8C447.4 606.8 450.5 599.1 451.2 597.5C451.8 596.2 454.2 589.7 455.0 588.8C455.3 588.4 458.5 588.3 458.8 588.8C459.8 590.9 462.5 606.2 463.2 606.2C464.0 606.2 467.3 590.6 468.8 588.8C469.4 587.9 475.4 588.4 476.6 588.4C477.8 588.3 484.3 587.0 484.5 588.0C486.3 596.4 489.2 651.1 490.0 651.2C490.8 651.4 493.8 597.8 495.5 589.5C495.7 588.5 501.7 589.5 502.8 589.5C503.8 589.5 509.7 588.6 510.0 589.5C511.8 596.1 515.3 640.0 516.2 640.0C517.1 640.0 520.0 596.2 522.0 590.0C522.4 588.7 532.1 588.6 532.5 590.0C534.8 599.0 538.8 658.8 540.0 658.8C541.2 658.8 546.1 599.6 548.0 590.0C548.1 589.3 552.6 590.0 553.4 590.0C554.2 590.0 558.6 589.3 558.8 590.0C560.5 599.6 565.1 658.8 566.2 658.8C567.4 658.8 572.5 599.5 574.5 590.0C574.7 589.2 579.5 590.0 580.4 590.0C581.3 590.0 586.1 589.2 586.2 590.0C587.8 599.3 589.8 647.9 591.2 657.5C591.4 658.4 596.7 658.7 597.0 659.5C598.4 663.2 600.8 684.3 602.5 687.5C603.1 688.6 611.7 687.0 612.5 688.0C614.1 689.9 617.5 704.0 618.8 706.2C619.0 706.7 622.3 706.7 622.5 706.2C623.6 704.0 626.2 690.1 627.5 688.0C627.9 687.3 633.3 687.3 633.8 688.0C635.2 690.2 638.6 704.8 640.0 707.0C640.4 707.7 645.1 707.0 646.0 707.0C646.9 707.0 651.2 707.0 652.1 707.0C653.0 707.0 657.2 707.0 658.1 707.0C659.0 707.0 663.3 707.0 664.2 707.0C665.1 707.0 669.3 707.0 670.2 707.0C671.1 707.0 676.1 707.8 676.2 707.0C677.8 698.2 680.4 642.5 681.2 642.5C682.1 642.5 685.0 698.6 687.0 707.0C687.3 708.2 696.0 707.7 696.2 706.5C698.3 697.8 700.3 649.3 702.5 640.8C702.8 639.4 712.6 639.4 713.0 640.8C715.2 649.1 717.8 696.6 719.5 705.5C719.6 706.3 724.3 705.5 725.1 705.5C726.0 705.5 729.9 705.5 730.7 705.5C731.6 705.5 735.5 705.5 736.3 705.5C737.2 705.5 741.1 705.5 742.0 705.5C742.8 705.5 746.7 705.5 747.6 705.5C748.4 705.5 752.3 705.5 753.2 705.5C754.0 705.5 758.0 705.5 758.8 705.5C759.6 705.5 763.6 705.5 764.4 705.5C765.3 705.5 769.2 705.5 770.0 705.5C770.9 705.5 774.8 705.5 775.6 705.5C776.5 705.5 781.1 706.3 781.2 705.5C782.9 692.3 785.9 625.7 787.5 612.5C787.6 611.8 792.4 611.8 792.5 612.5C794.1 625.7 796.9 692.5 798.8 705.5C798.9 706.4 804.4 705.5 805.4 705.5C806.4 705.5 811.1 705.5 812.1 705.5C813.1 705.5 818.6 706.4 818.8 705.5C820.3 698.4 822.2 659.6 823.8 652.5C823.9 651.7 829.2 652.1 830.0 652.5C831.1 653.0 835.1 658.0 836.2 658.5C837.2 658.9 842.6 658.5 843.8 658.5C844.9 658.5 851.1 659.5 851.2 658.5C852.8 649.1 854.1 598.4 855.5 588.8C855.6 588.0 861.1 588.0 861.2 588.8C862.7 597.3 864.9 642.6 866.2 651.2C866.4 651.9 871.1 651.9 871.2 651.2C872.6 642.6 874.8 597.4 876.2 588.8C876.4 588.0 881.0 588.8 881.9 588.8C882.7 588.8 887.4 588.0 887.5 588.8C889.1 597.4 892.4 644.2 893.8 651.2C893.9 652.3 897.3 643.9 897.5 642.5C898.8 634.5 902.2 596.1 903.8 588.8C903.9 588.1 908.7 588.0 908.8 588.8C910.4 605.8 913.4 690.4 915.0 707.5C915.1 708.2 919.9 708.2 920.0 707.5C921.3 700.9 923.2 665.5 924.5 659.0C924.7 658.3 929.7 658.3 930.0 659.0C931.4 662.0 934.8 679.6 935.6 683.2C936.5 686.9 940.3 706.9 941.2 707.5C941.9 707.9 946.0 692.7 946.2 690.0C947.6 675.1 949.9 603.9 952.0 590.0C952.2 588.7 961.0 587.5 961.2 588.8C963.3 597.7 965.9 647.9 967.5 657.5C967.6 658.2 972.4 658.2 972.5 657.5C974.1 647.9 976.7 597.9 978.8 588.8C979.0 587.5 988.0 586.8 988.2 588.0C990.3 597.1 993.2 650.8 994.5 657.5C994.8 659.0 997.7 644.3 998.8 642.5C999.1 641.9 1003.6 642.0 1003.8 641.2C1005.3 633.9 1008.4 595.9 1010.0 588.8C1010.2 588.0 1014.5 588.8 1015.3 588.8C1016.1 588.8 1019.8 588.8 1020.6 588.8C1021.4 588.8 1025.1 588.8 1025.9 588.8C1026.7 588.8 1031.2 588.0 1031.2 588.8C1032.9 605.7 1035.8 690.0 1037.5 707.0C1037.6 707.8 1042.0 707.0 1042.8 707.0C1043.6 707.0 1047.3 707.0 1048.1 707.0C1048.9 707.0 1052.6 707.0 1053.4 707.0C1054.2 707.0 1057.9 707.0 1058.7 707.0C1059.5 707.0 1063.2 707.0 1064.0 707.0C1064.8 707.0 1068.5 707.0 1069.3 707.0C1070.1 707.0 1073.8 707.0 1074.6 707.0C1075.4 707.0 1079.1 707.0 1079.9 707.0C1080.7 707.0 1084.4 707.0 1085.2 707.0C1086.0 707.0 1089.7 707.0 1090.5 707.0C1091.3 707.0 1095.0 707.0 1095.8 707.0C1096.6 707.0 1100.3 707.0 1101.1 707.0C1101.9 707.0 1105.6 707.0 1106.4 707.0C1107.2 707.0 1110.9 707.0 1111.7 707.0C1112.5 707.0 1116.2 707.0 1117.0 707.0C1117.8 707.0 1121.5 707.0 1122.3 707.0C1123.1 707.0 1126.8 707.0 1127.6 707.0C1128.4 707.0 1132.1 707.0 1132.9 707.0C1133.7 707.0 1137.4 707.0 1138.2 707.0C1139.0 707.0 1142.7 706.9 1143.5 706.9C1144.3 706.9 1148.0 706.9 1148.8 706.9C1149.6 706.9 1153.3 706.9 1154.1 706.9C1154.9 706.9 1158.6 706.9 1159.4 706.9C1160.2 706.9 1163.9 706.9 1164.7 706.9C1165.5 706.9 1169.2 706.9 1170.0 706.9C1170.8 706.9 1174.5 706.9 1175.3 706.9C1176.1 706.9 1179.8 706.9 1180.6 706.9C1181.4 706.9 1185.1 706.9 1185.9 706.9C1186.7 706.9 1190.4 706.9 1191.2 706.9C1192.0 706.9 1195.7 706.9 1196.5 706.9C1197.3 706.9 1201.0 706.9 1201.8 706.9C1202.6 706.9 1206.3 706.9 1207.1 706.9C1207.9 706.9 1211.6 706.9 1212.4 706.9C1213.2 706.9 1216.9 706.9 1217.7 706.9C1218.5 706.9 1222.2 706.9 1223.0 706.9C1223.8 706.9 1227.5 706.9 1228.3 706.9C1229.1 706.9 1232.8 706.9 1233.6 706.9C1234.4 706.9 1238.1 706.9 1238.9 706.9C1239.7 706.9 1243.4 706.9 1244.2 706.9C1245.0 706.9 1248.7 706.9 1249.5 706.9C1250.3 706.9 1254.0 706.9 1254.8 706.9C1255.6 706.9 1259.3 706.9 1260.1 706.9C1260.9 706.9 1264.6 706.9 1265.4 706.9C1266.2 706.9 1269.9 706.9 1270.7 706.9C1271.5 706.9 1275.3 706.9 1276.0 706.9C1276.8 706.9 1280.6 706.9 1281.3 706.9C1282.1 706.9 1285.9 706.9 1286.6 706.9C1287.4 706.9 1291.2 706.9 1291.9 706.9C1292.7 706.9 1296.5 706.9 1297.2 706.9C1298.0 706.9 1301.8 706.9 1302.6 706.9C1303.3 706.9 1307.1 706.9 1307.9 706.9C1308.6 706.9 1312.4 706.9 1313.2 706.9C1313.9 706.9 1317.7 706.9 1318.5 706.9C1319.2 706.9 1323.0 706.9 1323.8 706.9C1324.6 706.9 1328.3 706.9 1329.1 706.9C1329.9 706.9 1333.6 706.9 1334.4 706.9C1335.2 706.9 1338.9 706.9 1339.7 706.9C1340.5 706.9 1344.2 706.9 1345.0 706.9C1345.8 706.9 1349.5 706.8 1350.3 706.8C1351.1 706.8 1354.8 706.8 1355.6 706.8C1356.4 706.8 1360.1 706.8 1360.9 706.8C1361.7 706.8 1365.4 706.8 1366.2 706.8C1367.0 706.8 1370.7 706.8 1371.5 706.8C1372.3 706.8 1376.0 706.8 1376.8 706.8C1377.6 706.8 1381.3 706.8 1382.1 706.8C1382.9 706.8 1386.6 706.8 1387.4 706.8C1388.2 706.8 1391.9 706.8 1392.7 706.8C1393.5 706.8 1397.2 706.8 1398.0 706.8C1398.8 706.8 1402.5 706.8 1403.3 706.8C1404.1 706.8 1407.8 706.8 1408.6 706.8C1409.4 706.8 1413.1 706.8 1413.9 706.8C1414.7 706.8 1418.4 706.8 1419.2 706.8C1420.0 706.8 1423.7 706.8 1424.5 706.8C1425.3 706.8 1429.0 706.8 1429.8 706.8C1430.6 706.8 1434.3 706.8 1435.1 706.8C1435.9 706.8 1439.6 706.8 1440.4 706.8C1441.2 706.8 1444.9 706.8 1445.7 706.8C1446.5 706.8 1450.2 706.8 1451.0 706.8C1451.8 706.8 1455.5 706.8 1456.3 706.8C1457.1 706.8 1460.8 706.8 1461.6 706.8C1462.4 706.8 1466.1 706.8 1466.9 706.8C1467.7 706.8 1471.4 706.8 1472.2 706.8C1473.0 706.8 1476.7 706.8 1477.5 706.8C1478.3 706.8 1482.0 706.8 1482.8 706.8C1483.6 706.8 1487.3 706.8 1488.1 706.8C1488.9 706.8 1492.6 706.8 1493.4 706.8C1494.2 706.8 1497.9 706.8 1498.7 706.8C1499.5 706.8 1503.2 706.8 1504.0 706.8C1504.8 706.8 1508.5 706.8 1509.3 706.8C1510.1 706.8 1513.8 706.8 1514.6 706.8C1515.4 706.8 1519.1 706.8 1519.9 706.8C1520.7 706.8 1524.4 706.8 1525.2 706.8C1526.0 706.8 1529.7 706.8 1530.5 706.8C1531.3 706.8 1535.0 706.8 1535.8 706.8C1536.6 706.8 1540.3 706.8 1541.1 706.8C1541.9 706.8 1545.6 706.8 1546.4 706.8C1547.2 706.8 1550.9 706.8 1551.7 706.8C1552.5 706.8 1556.9 707.5 1557.0 706.8C1558.4 692.6 1560.1 621.6 1561.5 607.5C1561.6 606.7 1566.0 607.5 1566.8 607.5C1567.6 607.5 1571.3 607.5 1572.1 607.5C1572.9 607.5 1576.7 607.5 1577.5 607.5C1578.2 607.5 1582.0 607.5 1582.8 607.5C1583.6 607.5 1587.3 607.5 1588.1 607.5C1588.9 607.5 1592.6 607.5 1593.4 607.5C1594.2 607.5 1597.9 607.5 1598.7 607.5C1599.5 607.5 1603.2 607.5 1604.0 607.5C1604.8 607.5 1608.6 607.5 1609.4 607.5C1610.2 607.5 1613.9 607.5 1614.7 607.5C1615.5 607.5 1619.2 607.5 1620.0 607.5C1620.8 607.5 1624.5 607.5 1625.3 607.5C1626.1 607.5 1629.8 607.5 1630.6 607.5C1631.4 607.5 1635.1 607.5 1635.9 607.5C1636.7 607.5 1640.5 607.5 1641.3 607.5C1642.1 607.5 1645.8 607.5 1646.6 607.5C1647.4 607.5 1651.1 607.5 1651.9 607.5C1652.7 607.5 1656.4 607.5 1657.2 607.5C1658.0 607.5 1661.7 607.5 1662.5 607.5C1663.3 607.5 1667.0 607.5 1667.8 607.5C1668.6 607.5 1672.4 607.5 1673.2 607.5C1674.0 607.5 1677.7 607.5 1678.5 607.5C1679.3 607.5 1683.0 607.5 1683.8 607.5C1684.6 607.5 1688.3 607.5 1689.1 607.5C1689.9 607.5 1693.6 607.5 1694.4 607.5C1695.2 607.5 1699.0 607.5 1699.8 607.5C1700.5 607.5 1704.3 607.5 1705.1 607.5C1705.9 607.5 1709.6 607.5 1710.4 607.5C1711.2 607.5 1714.9 607.5 1715.7 607.5C1716.5 607.5 1720.2 607.5 1721.0 607.5C1721.8 607.5 1725.5 607.5 1726.3 607.5C1727.1 607.5 1730.9 607.5 1731.7 607.5C1732.5 607.5 1736.2 607.5 1737.0 607.5C1737.8 607.5 1741.5 607.5 1742.3 607.5C1743.1 607.5 1746.8 607.5 1747.6 607.5C1748.4 607.5 1752.1 607.5 1752.9 607.5C1753.7 607.5 1757.4 607.5 1758.2 607.5C1759.0 607.5 1762.8 607.5 1763.6 607.5C1764.4 607.5 1768.1 607.5 1768.9 607.5C1769.7 607.5 1773.4 607.5 1774.2 607.5C1775.0 607.5 1778.7 607.5 1779.5 607.5C1780.3 607.5 1784.0 607.5 1784.8 607.5C1785.6 607.5 1789.3 607.5 1790.1 607.5C1790.9 607.5 1794.7 607.5 1795.5 607.5C1796.3 607.5 1800.0 607.5 1800.8 607.5C1801.6 607.5 1805.3 607.5 1806.1 607.5C1806.9 607.5 1810.6 607.5 1811.4 607.5C1812.2 607.5 1815.9 607.5 1816.7 607.5C1817.5 607.5 1821.3 607.5 1822.0 607.5C1822.8 607.5 1826.6 607.5 1827.4 607.5C1828.2 607.5 1831.9 607.5 1832.7 607.5C1833.5 607.5 1837.2 607.5 1838.0 607.5" stroke="rgba(0,0,230,0.7)" stroke-width="5"/>
</g>
<text x="173" y="377.9" text-anchor="end" fill="#e2e2e2" stroke="#e2e2e2" stroke-width="0.25" font-family="Liberation Sans, sans-serif" font-size="24">8</text>
<text x="173" y="479.6" text-anchor="end" fill="#e2e2e2" stroke="#e2e2e2" stroke-width="0.25" font-family="Liberation Sans, sans-serif" font-size="24">6</text>
<text x="173" y="581.4" text-anchor="end" fill="#e2e2e2" stroke="#e2e2e2" stroke-width="0.25" font-family="Liberation Sans, sans-serif" font-size="24">4</text>
<text x="173" y="683.1" text-anchor="end" fill="#e2e2e2" stroke="#e2e2e2" stroke-width="0.25" font-family="Liberation Sans, sans-serif" font-size="24">2</text>
<text x="173" y="784.9" text-anchor="end" fill="#e2e2e2" stroke="#e2e2e2" stroke-width="0.25" font-family="Liberation Sans, sans-serif" font-size="24">0</text>
<text x="173" y="886.6" text-anchor="end" fill="#e2e2e2" stroke="#e2e2e2" stroke-width="0.25" font-family="Liberation Sans, sans-serif" font-size="24">-2</text>
<text x="173" y="988.3" text-anchor="end" fill="#e2e2e2" stroke="#e2e2e2" stroke-width="0.25" font-family="Liberation Sans, sans-serif" font-size="24">-4</text>
<text x="1857.5" y="988.8" fill="#e2e2e2" stroke="#e2e2e2" stroke-width="0.25" font-family="Liberation Sans, sans-serif" font-size="24">0</text>
<text x="1857.5" y="927.7" fill="#e2e2e2" stroke="#e2e2e2" stroke-width="0.25" font-family="Liberation Sans, sans-serif" font-size="24">10</text>
<text x="1857.5" y="866.6" fill="#e2e2e2" stroke="#e2e2e2" stroke-width="0.25" font-family="Liberation Sans, sans-serif" font-size="24">20</text>
<text x="1857.5" y="805.6" fill="#e2e2e2" stroke="#e2e2e2" stroke-width="0.25" font-family="Liberation Sans, sans-serif" font-size="24">30</text>
<text x="1857.5" y="744.5" fill="#e2e2e2" stroke="#e2e2e2" stroke-width="0.25" font-family="Liberation Sans, sans-serif" font-size="24">40</text>
<text x="1857.5" y="683.4" fill="#e2e2e2" stroke="#e2e2e2" stroke-width="0.25" font-family="Liberation Sans, sans-serif" font-size="24">50</text>
<text x="1857.5" y="622.3" fill="#e2e2e2" stroke="#e2e2e2" stroke-width="0.25" font-family="Liberation Sans, sans-serif" font-size="24">60</text>
<text x="1857.5" y="561.2" fill="#e2e2e2" stroke="#e2e2e2" stroke-width="0.25" font-family="Liberation Sans, sans-serif" font-size="24">70</text>
<text x="1857.5" y="500.2" fill="#e2e2e2" stroke="#e2e2e2" stroke-width="0.25" font-family="Liberation Sans, sans-serif" font-size="24">80</text>
<text x="1857.5" y="439.1" fill="#e2e2e2" stroke="#e2e2e2" stroke-width="0.25" font-family="Liberation Sans, sans-serif" font-size="24">90</text>
<text x="1857.5" y="378.0" fill="#e2e2e2" stroke="#e2e2e2" stroke-width="0.25" font-family="Liberation Sans, sans-serif" font-size="24">100</text>
<text transform="translate(193.5 1000.5) rotate(-48)" x="-56" y="8.5" textLength="56" lengthAdjust="spacingAndGlyphs" style="font-kerning:none" fill="#e2e2e2" stroke="#e2e2e2" stroke-width="0.25" font-family="Liberation Sans, sans-serif" font-size="24">11:50</text>
<text transform="translate(289.0 1000.5) rotate(-48)" x="-56" y="8.5" textLength="56" lengthAdjust="spacingAndGlyphs" style="font-kerning:none" fill="#e2e2e2" stroke="#e2e2e2" stroke-width="0.25" font-family="Liberation Sans, sans-serif" font-size="24">11:53</text>
<text transform="translate(384.4 1000.5) rotate(-48)" x="-56" y="8.5" textLength="56" lengthAdjust="spacingAndGlyphs" style="font-kerning:none" fill="#e2e2e2" stroke="#e2e2e2" stroke-width="0.25" font-family="Liberation Sans, sans-serif" font-size="24">11:56</text>
<text transform="translate(479.9 1000.5) rotate(-48)" x="-56" y="8.5" textLength="56" lengthAdjust="spacingAndGlyphs" style="font-kerning:none" fill="#e2e2e2" stroke="#e2e2e2" stroke-width="0.25" font-family="Liberation Sans, sans-serif" font-size="24">12:07</text>
<text transform="translate(575.4 1000.5) rotate(-48)" x="-56" y="8.5" textLength="56" lengthAdjust="spacingAndGlyphs" style="font-kerning:none" fill="#e2e2e2" stroke="#e2e2e2" stroke-width="0.25" font-family="Liberation Sans, sans-serif" font-size="24">12:10</text>
<text transform="translate(670.9 1000.5) rotate(-48)" x="-56" y="8.5" textLength="56" lengthAdjust="spacingAndGlyphs" style="font-kerning:none" fill="#e2e2e2" stroke="#e2e2e2" stroke-width="0.25" font-family="Liberation Sans, sans-serif" font-size="24">12:13</text>
<text transform="translate(766.3 1000.5) rotate(-48)" x="-56" y="8.5" textLength="56" lengthAdjust="spacingAndGlyphs" style="font-kerning:none" fill="#e2e2e2" stroke="#e2e2e2" stroke-width="0.25" font-family="Liberation Sans, sans-serif" font-size="24">12:16</text>
<text transform="translate(861.8 1000.5) rotate(-48)" x="-56" y="8.5" textLength="56" lengthAdjust="spacingAndGlyphs" style="font-kerning:none" fill="#e2e2e2" stroke="#e2e2e2" stroke-width="0.25" font-family="Liberation Sans, sans-serif" font-size="24">12:19</text>
<text transform="translate(957.3 1000.5) rotate(-48)" x="-56" y="8.5" textLength="56" lengthAdjust="spacingAndGlyphs" style="font-kerning:none" fill="#e2e2e2" stroke="#e2e2e2" stroke-width="0.25" font-family="Liberation Sans, sans-serif" font-size="24">12:22</text>
<text transform="translate(1052.7 1000.5) rotate(-48)" x="-56" y="8.5" textLength="56" lengthAdjust="spacingAndGlyphs" style="font-kerning:none" fill="#e2e2e2" stroke="#e2e2e2" stroke-width="0.25" font-family="Liberation Sans, sans-serif" font-size="24">12:25</text>
<text transform="translate(1148.2 1000.5) rotate(-48)" x="-56" y="8.5" textLength="56" lengthAdjust="spacingAndGlyphs" style="font-kerning:none" fill="#e2e2e2" stroke="#e2e2e2" stroke-width="0.25" font-family="Liberation Sans, sans-serif" font-size="24">12:28</text>
<text transform="translate(1243.7 1000.5) rotate(-48)" x="-56" y="8.5" textLength="56" lengthAdjust="spacingAndGlyphs" style="font-kerning:none" fill="#e2e2e2" stroke="#e2e2e2" stroke-width="0.25" font-family="Liberation Sans, sans-serif" font-size="24">12:31</text>
<text transform="translate(1339.1 1000.5) rotate(-48)" x="-56" y="8.5" textLength="56" lengthAdjust="spacingAndGlyphs" style="font-kerning:none" fill="#e2e2e2" stroke="#e2e2e2" stroke-width="0.25" font-family="Liberation Sans, sans-serif" font-size="24">12:34</text>
<text transform="translate(1434.6 1000.5) rotate(-48)" x="-56" y="8.5" textLength="56" lengthAdjust="spacingAndGlyphs" style="font-kerning:none" fill="#e2e2e2" stroke="#e2e2e2" stroke-width="0.25" font-family="Liberation Sans, sans-serif" font-size="24">12:37</text>
<text transform="translate(1530.1 1000.5) rotate(-48)" x="-56" y="8.5" textLength="56" lengthAdjust="spacingAndGlyphs" style="font-kerning:none" fill="#e2e2e2" stroke="#e2e2e2" stroke-width="0.25" font-family="Liberation Sans, sans-serif" font-size="24">12:40</text>
<text transform="translate(1625.5 1000.5) rotate(-48)" x="-56" y="8.5" textLength="56" lengthAdjust="spacingAndGlyphs" style="font-kerning:none" fill="#e2e2e2" stroke="#e2e2e2" stroke-width="0.25" font-family="Liberation Sans, sans-serif" font-size="24">12:43</text>
<text transform="translate(1721.0 1000.5) rotate(-48)" x="-56" y="8.5" textLength="56" lengthAdjust="spacingAndGlyphs" style="font-kerning:none" fill="#e2e2e2" stroke="#e2e2e2" stroke-width="0.25" font-family="Liberation Sans, sans-serif" font-size="24">12:46</text>
<text transform="translate(1816.5 1000.5) rotate(-48)" x="-56" y="8.5" textLength="56" lengthAdjust="spacingAndGlyphs" style="font-kerning:none" fill="#e2e2e2" stroke="#e2e2e2" stroke-width="0.25" font-family="Liberation Sans, sans-serif" font-size="24">12:49</text>
<text transform="translate(124 675) rotate(-90)" x="-71.7" textLength="143.4" lengthAdjust="spacingAndGlyphs" fill="#e2e2e2" stroke="#e2e2e2" stroke-width="0.25" font-family="Liberation Sans, sans-serif" font-size="24">Leistung [kW]</text>
<text transform="translate(1924.5 674.4) rotate(90)" x="-44.4" textLength="88.8" lengthAdjust="spacingAndGlyphs" fill="#e2e2e2" stroke="#e2e2e2" stroke-width="0.25" font-family="Liberation Sans, sans-serif" font-size="24">SoC [%]</text>
</svg>
<div class="box" style="left:64px;top:1071px;width:1920px;height:60px;background:#b7bbc7"></div>
<div class="box" style="left:64px;top:1131px;width:1920px;height:120px;background:#d0d6e4"></div>
<span class="t" id="th1" style="left:203.0px;top:1082.0px;font-size:39px;font-weight:700;color:#4e4e4e;transform:scaleX(1.0102);transform-origin:left center;-webkit-text-stroke:0.5px #4e4e4e;">Ladepunkt</span>
<span class="t" id="th2" style="left:638.2px;top:1082.0px;font-size:39px;font-weight:700;color:#4e4e4e;transform:scaleX(1.0286);transform-origin:left center;-webkit-text-stroke:0.5px #4e4e4e;">Ladeparameter</span>
<span class="t" id="th3" style="left:1267.4px;top:1082.0px;font-size:39px;font-weight:700;color:#4e4e4e;transform:scaleX(1.0330);transform-origin:left center;-webkit-text-stroke:0.5px #4e4e4e;">geladen</span>
<span class="t" id="th4" style="left:1785.4px;top:1082.0px;font-size:39px;font-weight:700;color:#4e4e4e;transform:scaleX(1.0007);transform-origin:left center;-webkit-text-stroke:0.5px #4e4e4e;">SoC</span>
<span class="t" id="r1a" style="left:93.0px;top:1141.4px;font-size:39px;font-weight:700;color:#286828;transform:scaleX(0.9916);transform-origin:left center;-webkit-text-stroke:0.5px #286828;">LP rechts OpenWB</span>
<span class="t" id="r2a" style="left:163.2px;top:1200.7px;font-size:39px;font-weight:700;color:#286828;transform:scaleX(1.0337);transform-origin:left center;-webkit-text-stroke:0.5px #286828;">go-eCharger</span>
<span class="t" id="r1b" style="left:653.4px;top:1141.8px;font-size:38.5px;font-weight:400;color:#4e4e4e;transform:scaleX(1.0100);transform-origin:left center;-webkit-text-stroke:0.25px #4e4e4e;">3,32 kW</span>
<span class="t" id="r1c" style="left:854.0px;top:1141.8px;font-size:38.5px;font-weight:400;color:#4e4e4e;transform:scaleX(1.0371);transform-origin:left center;-webkit-text-stroke:0.25px #4e4e4e;">6 A</span>
<span class="t" id="r2b" style="left:653.4px;top:1201.2px;font-size:38.5px;font-weight:400;color:#4e4e4e;transform:scaleX(1.0213);transform-origin:left center;-webkit-text-stroke:0.25px #4e4e4e;">3,36 kW</span>
<span class="t" id="r2c" style="left:855.0px;top:1201.2px;font-size:38.5px;font-weight:400;color:#4e4e4e;transform:scaleX(1.0371);transform-origin:left center;-webkit-text-stroke:0.25px #4e4e4e;">6 A</span>
<span class="t" id="r1d" style="left:1189.0px;top:1141.8px;font-size:38.5px;font-weight:400;color:#4e4e4e;transform:scaleX(1.0065);transform-origin:left center;-webkit-text-stroke:0.25px #4e4e4e;">4,7 kWh / 26,7 km</span>
<span class="t" id="r2d" style="left:1186.0px;top:1201.2px;font-size:38.5px;font-weight:400;color:#4e4e4e;transform:scaleX(1.0200);transform-origin:left center;-webkit-text-stroke:0.25px #4e4e4e;">4,0 kWh / 25,0 km</span>
<span class="t" id="r1e" style="left:1777.6px;top:1141.8px;font-size:38.5px;font-weight:400;color:#4e4e4e;transform:scaleX(1.0553);transform-origin:left center;-webkit-text-stroke:0.25px #4e4e4e;">93 %</span>
<span class="t" id="r2e" style="left:1806.4px;top:1201.2px;font-size:38.5px;font-weight:400;color:#4e4e4e;transform:scaleX(1.3735);transform-origin:left center;-webkit-text-stroke:0.25px #4e4e4e;">--</span>
<svg style="left:810px;top:1144.0px" width="34" height="34" viewBox="0 0 34 34"><circle cx="17" cy="17" r="14" fill="none" stroke="#4e4e4e" stroke-width="2.6"/><path d="M13.2 13.2 L17.6 10 L17.6 24" fill="none" stroke="#4e4e4e" stroke-width="2.4"/></svg>
<svg style="left:810px;top:1203.5px" width="34" height="34" viewBox="0 0 34 34"><circle cx="17" cy="17" r="14" fill="none" stroke="#4e4e4e" stroke-width="2.6"/><path d="M13.2 13.2 L17.6 10 L17.6 24" fill="none" stroke="#4e4e4e" stroke-width="2.4"/></svg>
<svg style="left:452px;top:1148.5px" width="22.5" height="30" viewBox="0 0 384 512"><path fill="#fff" d="M320 32a32 32 0 0 0-64 0v96h64zm48 128H16a16 16 0 0 0-16 16v32a16 16 0 0 0 16 16h16v32a160.070 160.070 0 0 0 128 156.800V512h64v-99.200A160.070 160.070 0 0 0 352 256v-32h16a16 16 0 0 0 16-16v-32a16 16 0 0 0-16-16zM128 32a32 32 0 0 0-64 0v96h64z"/></svg>
<svg style="left:484px;top:1148.5px" width="30" height="30" viewBox="0 0 512 512"><path fill="#505050" d="M283.211 512c78.962 0 151.079-35.925 198.857-94.792 7.068-8.708-.639-21.430-11.562-19.350-124.203 23.654-238.262-71.576-238.262-196.954 0-72.222 38.662-138.635 101.498-174.394 9.686-5.512 7.250-20.197-3.756-22.230A258.156 258.156 0 0 0 283.211 0c-141.309 0-256 114.511-256 256 0 141.309 114.511 256 256 256z"/></svg>
<svg style="left:414px;top:1208.5px" width="30" height="30" viewBox="0 0 512 512"><path fill="#505050" d="M283.211 512c78.962 0 151.079-35.925 198.857-94.792 7.068-8.708-.639-21.430-11.562-19.350-124.203 23.654-238.262-71.576-238.262-196.954 0-72.222 38.662-138.635 101.498-174.394 9.686-5.512 7.250-20.197-3.756-22.230A258.156 258.156 0 0 0 283.211 0c-141.309 0-256 114.511-256 256 0 141.309 114.511 256 256 256z"/></svg>
<div class="box" style="left:94px;top:1282.5px;width:1860px;height:2px;background:#fff"></div>
</body></html>
